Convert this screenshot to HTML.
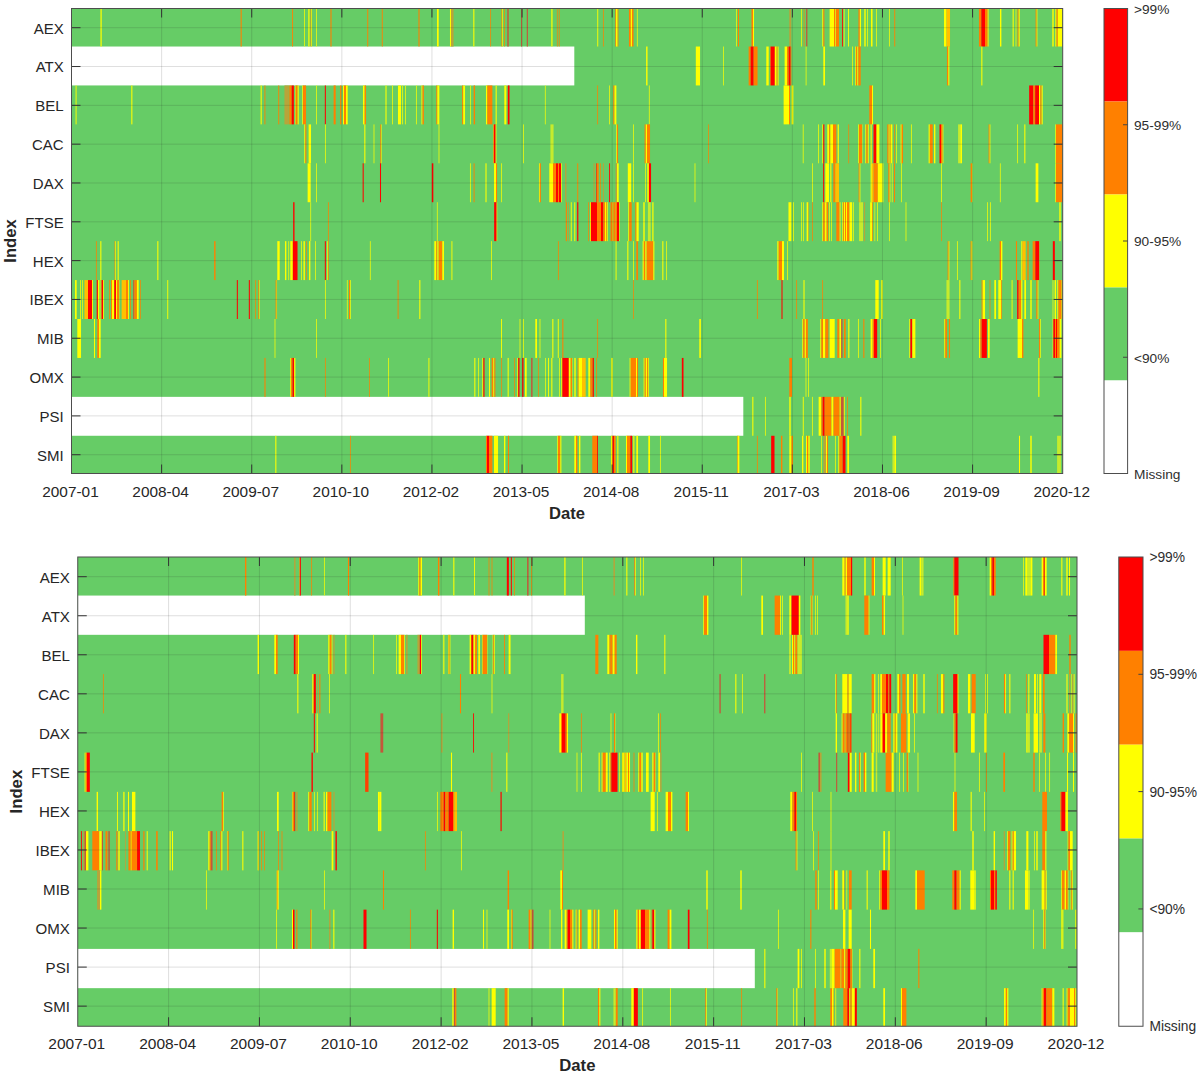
<!DOCTYPE html>
<html><head><meta charset="utf-8"><title>Heatmaps</title>
<style>
html,body{margin:0;padding:0;background:#fff;}
svg{display:block;font-family:"Liberation Sans",Arial,Helvetica,sans-serif;}
</style></head><body>
<svg width="1200" height="1076" viewBox="0 0 1200 1076">
<rect width="1200" height="1076" fill="#fff"/>
<rect x="71.5" y="8.5" width="991.2" height="465.0" fill="#66cc66"/>
<rect x="71.5" y="46.52" width="502.80" height="38.92" fill="#fff"/>
<rect x="71.5" y="396.85" width="671.80" height="38.92" fill="#fff"/>
<g>
<rect x="100.47" y="8.50" width="1.23" height="38.02" fill="#ffff00"/>
<rect x="240.63" y="8.50" width="1.07" height="38.02" fill="#ff8000"/>
<rect x="292.13" y="8.50" width="0.90" height="38.02" fill="#ff8000"/>
<rect x="304.13" y="8.50" width="0.73" height="38.02" fill="#ffff00"/>
<rect x="308.30" y="8.50" width="1.23" height="38.02" fill="#ffff00"/>
<rect x="310.63" y="8.50" width="0.70" height="38.02" fill="#ff8000"/>
<rect x="311.33" y="8.50" width="0.70" height="38.02" fill="#ffff00"/>
<rect x="316.07" y="8.50" width="0.70" height="38.02" fill="#ffff00"/>
<rect x="330.47" y="8.50" width="1.07" height="38.02" fill="#ff8000"/>
<rect x="367.30" y="8.50" width="0.90" height="38.02" fill="#ff8000"/>
<rect x="381.80" y="8.50" width="0.90" height="38.02" fill="#ff8000"/>
<rect x="418.47" y="8.50" width="1.07" height="38.02" fill="#ff8000"/>
<rect x="436.97" y="8.50" width="1.73" height="38.02" fill="#ffff00"/>
<rect x="449.97" y="8.50" width="1.03" height="38.02" fill="#ffff00"/>
<rect x="451.00" y="8.50" width="2.57" height="38.02" fill="#b9a43a"/>
<rect x="473.30" y="8.50" width="1.07" height="38.02" fill="#ffff00"/>
<rect x="490.30" y="8.50" width="0.73" height="38.02" fill="#ff8000"/>
<rect x="501.47" y="8.50" width="0.87" height="38.02" fill="#ff8000"/>
<rect x="502.33" y="8.50" width="0.70" height="38.02" fill="#ffff00"/>
<rect x="504.15" y="8.50" width="0.70" height="38.02" fill="#ff8000"/>
<rect x="507.27" y="8.50" width="1.47" height="38.02" fill="#c4573a"/>
<rect x="521.10" y="8.50" width="0.97" height="38.02" fill="#c4573a"/>
<rect x="526.77" y="8.50" width="1.13" height="38.02" fill="#c4573a"/>
<rect x="551.30" y="8.50" width="1.23" height="38.02" fill="#ffff00"/>
<rect x="556.90" y="8.50" width="0.70" height="38.02" fill="#ff8000"/>
<rect x="558.80" y="8.50" width="0.73" height="38.02" fill="#ff8000"/>
<rect x="597.30" y="8.50" width="0.90" height="38.02" fill="#ffff00"/>
<rect x="602.97" y="8.50" width="0.73" height="38.02" fill="#ff8000"/>
<rect x="615.30" y="8.50" width="0.70" height="38.02" fill="#ff8000"/>
<rect x="616.00" y="8.50" width="1.67" height="38.02" fill="#ffff00"/>
<rect x="617.67" y="8.50" width="0.70" height="38.02" fill="#ff8000"/>
<rect x="628.97" y="8.50" width="1.87" height="38.02" fill="#ff8000"/>
<rect x="630.83" y="8.50" width="1.17" height="38.02" fill="#ffff00"/>
<rect x="632.00" y="8.50" width="1.53" height="38.02" fill="#ff8000"/>
<rect x="636.90" y="8.50" width="0.70" height="38.02" fill="#ffff00"/>
<rect x="736.15" y="8.50" width="0.70" height="38.02" fill="#ffff00"/>
<rect x="737.97" y="8.50" width="1.07" height="38.02" fill="#ff8000"/>
<rect x="751.47" y="8.50" width="1.53" height="38.02" fill="#ff8000"/>
<rect x="753.00" y="8.50" width="1.03" height="38.02" fill="#ffff00"/>
<rect x="789.27" y="8.50" width="1.97" height="38.02" fill="#b9a43a"/>
<rect x="801.13" y="8.50" width="0.73" height="38.02" fill="#ffff00"/>
<rect x="803.73" y="8.50" width="0.70" height="38.02" fill="#ff8000"/>
<rect x="806.10" y="8.50" width="1.30" height="38.02" fill="#c4573a"/>
<rect x="822.30" y="8.50" width="1.03" height="38.02" fill="#ffff00"/>
<rect x="823.33" y="8.50" width="1.03" height="38.02" fill="#ff8000"/>
<rect x="829.63" y="8.50" width="4.37" height="38.02" fill="#ffff00"/>
<rect x="834.00" y="8.50" width="1.33" height="38.02" fill="#ff8000"/>
<rect x="835.33" y="8.50" width="0.67" height="38.02" fill="#ffff00"/>
<rect x="836.00" y="8.50" width="3.03" height="38.02" fill="#ff8000"/>
<rect x="841.98" y="8.50" width="0.87" height="38.02" fill="#ff0000"/>
<rect x="843.82" y="8.50" width="0.70" height="38.02" fill="#ffff00"/>
<rect x="848.13" y="8.50" width="0.90" height="38.02" fill="#ffff00"/>
<rect x="858.47" y="8.50" width="1.37" height="38.02" fill="#ff8000"/>
<rect x="859.83" y="8.50" width="1.20" height="38.02" fill="#ffff00"/>
<rect x="864.30" y="8.50" width="1.40" height="38.02" fill="#ffff00"/>
<rect x="867.30" y="8.50" width="0.73" height="38.02" fill="#ffff00"/>
<rect x="870.97" y="8.50" width="1.03" height="38.02" fill="#ffff00"/>
<rect x="872.00" y="8.50" width="0.53" height="38.02" fill="#ffff00"/>
<rect x="875.97" y="8.50" width="0.73" height="38.02" fill="#ffff00"/>
<rect x="888.97" y="8.50" width="0.73" height="38.02" fill="#ffff00"/>
<rect x="894.30" y="8.50" width="0.90" height="38.02" fill="#ff8000"/>
<rect x="943.97" y="8.50" width="2.53" height="38.02" fill="#ffff00"/>
<rect x="946.50" y="8.50" width="3.53" height="38.02" fill="#ffc000"/>
<rect x="978.97" y="8.50" width="2.37" height="38.02" fill="#ff8000"/>
<rect x="981.33" y="8.50" width="3.67" height="38.02" fill="#ff0000"/>
<rect x="985.00" y="8.50" width="2.67" height="38.02" fill="#ff8000"/>
<rect x="987.67" y="8.50" width="0.87" height="38.02" fill="#ffff00"/>
<rect x="999.97" y="8.50" width="1.40" height="38.02" fill="#ffff00"/>
<rect x="1012.63" y="8.50" width="1.07" height="38.02" fill="#ffff00"/>
<rect x="1015.63" y="8.50" width="0.73" height="38.02" fill="#ffff00"/>
<rect x="1017.63" y="8.50" width="1.03" height="38.02" fill="#ff8000"/>
<rect x="1018.67" y="8.50" width="1.03" height="38.02" fill="#ffff00"/>
<rect x="1035.63" y="8.50" width="1.03" height="38.02" fill="#ff8000"/>
<rect x="1036.67" y="8.50" width="0.70" height="38.02" fill="#ffff00"/>
<rect x="1052.30" y="8.50" width="1.40" height="38.02" fill="#ffff00"/>
<rect x="1055.30" y="8.50" width="1.20" height="38.02" fill="#ffff00"/>
<rect x="1056.50" y="8.50" width="1.33" height="38.02" fill="#ff8000"/>
<rect x="1057.83" y="8.50" width="4.53" height="38.02" fill="#ffff00"/>
<rect x="75.63" y="85.45" width="0.90" height="38.92" fill="#ffff00"/>
<rect x="131.30" y="85.45" width="1.07" height="38.92" fill="#ffff00"/>
<rect x="260.63" y="85.45" width="1.07" height="38.92" fill="#ffff00"/>
<rect x="264.47" y="85.45" width="0.90" height="38.92" fill="#ff8000"/>
<rect x="278.30" y="85.45" width="0.90" height="38.92" fill="#ff8000"/>
<rect x="284.43" y="85.45" width="3.73" height="38.92" fill="#b9a43a"/>
<rect x="288.17" y="85.45" width="1.17" height="38.92" fill="#b9a43a"/>
<rect x="289.33" y="85.45" width="2.33" height="38.92" fill="#ff8000"/>
<rect x="291.67" y="85.45" width="2.18" height="38.92" fill="#ff0000"/>
<rect x="294.97" y="85.45" width="0.70" height="38.92" fill="#ffff00"/>
<rect x="295.67" y="85.45" width="2.00" height="38.92" fill="#ff8000"/>
<rect x="297.67" y="85.45" width="1.03" height="38.92" fill="#ffff00"/>
<rect x="302.30" y="85.45" width="0.70" height="38.92" fill="#ffff00"/>
<rect x="303.00" y="85.45" width="3.03" height="38.92" fill="#ff8000"/>
<rect x="316.07" y="85.45" width="0.70" height="38.92" fill="#ffff00"/>
<rect x="324.82" y="85.45" width="1.03" height="38.92" fill="#ff0000"/>
<rect x="333.63" y="85.45" width="2.07" height="38.92" fill="#ff8000"/>
<rect x="340.13" y="85.45" width="1.23" height="38.92" fill="#ff8000"/>
<rect x="342.97" y="85.45" width="1.03" height="38.92" fill="#ffff00"/>
<rect x="344.00" y="85.45" width="2.00" height="38.92" fill="#ff8000"/>
<rect x="346.00" y="85.45" width="1.70" height="38.92" fill="#ffff00"/>
<rect x="362.97" y="85.45" width="1.70" height="38.92" fill="#ffff00"/>
<rect x="364.67" y="85.45" width="1.37" height="38.92" fill="#ff8000"/>
<rect x="385.47" y="85.45" width="1.07" height="38.92" fill="#ffff00"/>
<rect x="392.13" y="85.45" width="0.73" height="38.92" fill="#ffff00"/>
<rect x="397.97" y="85.45" width="3.07" height="38.92" fill="#ffff00"/>
<rect x="402.30" y="85.45" width="0.73" height="38.92" fill="#ffff00"/>
<rect x="405.07" y="85.45" width="0.70" height="38.92" fill="#ffff00"/>
<rect x="415.97" y="85.45" width="0.73" height="38.92" fill="#ffff00"/>
<rect x="421.47" y="85.45" width="1.03" height="38.92" fill="#ffff00"/>
<rect x="422.50" y="85.45" width="1.37" height="38.92" fill="#ff8000"/>
<rect x="436.30" y="85.45" width="1.03" height="38.92" fill="#ff8000"/>
<rect x="437.33" y="85.45" width="2.03" height="38.92" fill="#ffff00"/>
<rect x="462.13" y="85.45" width="1.03" height="38.92" fill="#ff8000"/>
<rect x="463.17" y="85.45" width="1.87" height="38.92" fill="#ffff00"/>
<rect x="470.30" y="85.45" width="0.73" height="38.92" fill="#ffff00"/>
<rect x="473.63" y="85.45" width="1.40" height="38.92" fill="#ff8000"/>
<rect x="485.97" y="85.45" width="1.37" height="38.92" fill="#ffff00"/>
<rect x="487.33" y="85.45" width="5.03" height="38.92" fill="#ff8000"/>
<rect x="495.63" y="85.45" width="1.07" height="38.92" fill="#ffff00"/>
<rect x="504.30" y="85.45" width="2.07" height="38.92" fill="#ffff00"/>
<rect x="507.82" y="85.45" width="1.70" height="38.92" fill="#ff0000"/>
<rect x="544.90" y="85.45" width="0.70" height="38.92" fill="#ffff00"/>
<rect x="597.30" y="85.45" width="0.73" height="38.92" fill="#ff8000"/>
<rect x="609.23" y="85.45" width="0.70" height="38.92" fill="#ffff00"/>
<rect x="613.30" y="85.45" width="1.20" height="38.92" fill="#ff8000"/>
<rect x="614.50" y="85.45" width="1.87" height="38.92" fill="#ffff00"/>
<rect x="648.90" y="85.45" width="0.70" height="38.92" fill="#ffff00"/>
<rect x="783.63" y="85.45" width="5.37" height="38.92" fill="#ffff00"/>
<rect x="789.00" y="85.45" width="1.03" height="38.92" fill="#ff8000"/>
<rect x="791.63" y="85.45" width="1.73" height="38.92" fill="#ffff00"/>
<rect x="869.30" y="85.45" width="2.70" height="38.92" fill="#ff8000"/>
<rect x="872.00" y="85.45" width="1.03" height="38.92" fill="#ffff00"/>
<rect x="1029.15" y="85.45" width="4.18" height="38.92" fill="#ff0000"/>
<rect x="1033.33" y="85.45" width="1.83" height="38.92" fill="#ff8000"/>
<rect x="1035.17" y="85.45" width="3.83" height="38.92" fill="#ff0000"/>
<rect x="1039.00" y="85.45" width="1.33" height="38.92" fill="#ffff00"/>
<rect x="1040.33" y="85.45" width="1.33" height="38.92" fill="#ff8000"/>
<rect x="1041.67" y="85.45" width="1.03" height="38.92" fill="#ffff00"/>
<rect x="304.30" y="124.37" width="1.03" height="38.92" fill="#ffff00"/>
<rect x="305.33" y="124.37" width="1.03" height="38.92" fill="#ff8000"/>
<rect x="308.63" y="124.37" width="2.40" height="38.92" fill="#ffff00"/>
<rect x="324.97" y="124.37" width="0.73" height="38.92" fill="#ffff00"/>
<rect x="364.30" y="124.37" width="1.07" height="38.92" fill="#ffff00"/>
<rect x="373.63" y="124.37" width="0.73" height="38.92" fill="#ffff00"/>
<rect x="380.30" y="124.37" width="0.87" height="38.92" fill="#ff8000"/>
<rect x="381.17" y="124.37" width="0.53" height="38.92" fill="#ffff00"/>
<rect x="438.63" y="124.37" width="0.73" height="38.92" fill="#ffff00"/>
<rect x="492.97" y="124.37" width="0.70" height="38.92" fill="#ffff00"/>
<rect x="493.67" y="124.37" width="2.00" height="38.92" fill="#ff0000"/>
<rect x="495.67" y="124.37" width="0.70" height="38.92" fill="#ffff00"/>
<rect x="523.07" y="124.37" width="0.70" height="38.92" fill="#ffff00"/>
<rect x="550.43" y="124.37" width="3.13" height="38.92" fill="#c6eb2c"/>
<rect x="616.30" y="124.37" width="0.70" height="38.92" fill="#ffff00"/>
<rect x="617.00" y="124.37" width="1.03" height="38.92" fill="#ff8000"/>
<rect x="633.07" y="124.37" width="0.70" height="38.92" fill="#ffff00"/>
<rect x="644.63" y="124.37" width="1.20" height="38.92" fill="#ff8000"/>
<rect x="645.83" y="124.37" width="1.17" height="38.92" fill="#ffff00"/>
<rect x="647.00" y="124.37" width="3.03" height="38.92" fill="#ff8000"/>
<rect x="708.23" y="124.37" width="0.70" height="38.92" fill="#ff8000"/>
<rect x="802.80" y="124.37" width="0.73" height="38.92" fill="#ffff00"/>
<rect x="818.30" y="124.37" width="0.73" height="38.92" fill="#ffff00"/>
<rect x="822.30" y="124.37" width="0.95" height="38.92" fill="#ffff00"/>
<rect x="823.25" y="124.37" width="1.10" height="38.92" fill="#ff0000"/>
<rect x="827.30" y="124.37" width="1.87" height="38.92" fill="#ffff00"/>
<rect x="829.17" y="124.37" width="1.17" height="38.92" fill="#ff8000"/>
<rect x="830.33" y="124.37" width="2.67" height="38.92" fill="#ffff00"/>
<rect x="833.00" y="124.37" width="3.37" height="38.92" fill="#ff8000"/>
<rect x="837.63" y="124.37" width="1.23" height="38.92" fill="#ffff00"/>
<rect x="848.40" y="124.37" width="0.70" height="38.92" fill="#ff8000"/>
<rect x="858.30" y="124.37" width="0.70" height="38.92" fill="#ffff00"/>
<rect x="859.00" y="124.37" width="3.00" height="38.92" fill="#ff8000"/>
<rect x="862.00" y="124.37" width="0.37" height="38.92" fill="#ffff00"/>
<rect x="865.30" y="124.37" width="1.03" height="38.92" fill="#ffff00"/>
<rect x="866.33" y="124.37" width="1.50" height="38.92" fill="#ff8000"/>
<rect x="867.83" y="124.37" width="0.87" height="38.92" fill="#ffff00"/>
<rect x="870.63" y="124.37" width="1.07" height="38.92" fill="#ffff00"/>
<rect x="873.48" y="124.37" width="3.02" height="38.92" fill="#ff0000"/>
<rect x="876.50" y="124.37" width="2.87" height="38.92" fill="#ffff00"/>
<rect x="887.30" y="124.37" width="1.37" height="38.92" fill="#ff8000"/>
<rect x="888.67" y="124.37" width="1.00" height="38.92" fill="#ffff00"/>
<rect x="889.67" y="124.37" width="1.00" height="38.92" fill="#ff8000"/>
<rect x="890.67" y="124.37" width="1.70" height="38.92" fill="#ffff00"/>
<rect x="894.30" y="124.37" width="0.73" height="38.92" fill="#ff8000"/>
<rect x="896.30" y="124.37" width="0.73" height="38.92" fill="#ffff00"/>
<rect x="900.63" y="124.37" width="1.03" height="38.92" fill="#ffff00"/>
<rect x="901.67" y="124.37" width="1.37" height="38.92" fill="#ff8000"/>
<rect x="910.97" y="124.37" width="0.73" height="38.92" fill="#ffff00"/>
<rect x="928.63" y="124.37" width="1.20" height="38.92" fill="#ffff00"/>
<rect x="929.83" y="124.37" width="2.87" height="38.92" fill="#ff8000"/>
<rect x="933.97" y="124.37" width="1.40" height="38.92" fill="#ffff00"/>
<rect x="939.48" y="124.37" width="1.52" height="38.92" fill="#ff0000"/>
<rect x="941.00" y="124.37" width="1.67" height="38.92" fill="#ff8000"/>
<rect x="942.67" y="124.37" width="0.70" height="38.92" fill="#ffff00"/>
<rect x="958.10" y="124.37" width="2.23" height="38.92" fill="#c6eb2c"/>
<rect x="960.33" y="124.37" width="1.70" height="38.92" fill="#ffff00"/>
<rect x="988.63" y="124.37" width="1.03" height="38.92" fill="#ff8000"/>
<rect x="989.67" y="124.37" width="0.70" height="38.92" fill="#ffff00"/>
<rect x="1017.30" y="124.37" width="0.73" height="38.92" fill="#ffff00"/>
<rect x="1024.30" y="124.37" width="1.07" height="38.92" fill="#ffff00"/>
<rect x="1055.30" y="124.37" width="0.70" height="38.92" fill="#ffff00"/>
<rect x="1056.00" y="124.37" width="6.37" height="38.92" fill="#ff8000"/>
<rect x="646.13" y="46.52" width="1.40" height="38.92" fill="#ffff00"/>
<rect x="695.80" y="46.52" width="4.23" height="38.92" fill="#ffff00"/>
<rect x="723.23" y="46.52" width="0.70" height="38.92" fill="#ffff00"/>
<rect x="748.63" y="46.52" width="2.03" height="38.92" fill="#ff8000"/>
<rect x="750.67" y="46.52" width="3.00" height="38.92" fill="#ff0000"/>
<rect x="753.67" y="46.52" width="3.87" height="38.92" fill="#ff8000"/>
<rect x="766.30" y="46.52" width="2.40" height="38.92" fill="#ffff00"/>
<rect x="769.97" y="46.52" width="0.70" height="38.92" fill="#ff8000"/>
<rect x="770.67" y="46.52" width="4.17" height="38.92" fill="#ff0000"/>
<rect x="774.83" y="46.52" width="1.83" height="38.92" fill="#ffff00"/>
<rect x="776.67" y="46.52" width="1.00" height="38.92" fill="#ff8000"/>
<rect x="777.67" y="46.52" width="0.87" height="38.92" fill="#ffff00"/>
<rect x="784.63" y="46.52" width="2.37" height="38.92" fill="#ffff00"/>
<rect x="787.00" y="46.52" width="1.67" height="38.92" fill="#ff8000"/>
<rect x="788.67" y="46.52" width="2.00" height="38.92" fill="#ff0000"/>
<rect x="790.67" y="46.52" width="0.70" height="38.92" fill="#ff8000"/>
<rect x="805.73" y="46.52" width="0.70" height="38.92" fill="#ffff00"/>
<rect x="823.30" y="46.52" width="1.73" height="38.92" fill="#ffff00"/>
<rect x="852.15" y="46.52" width="0.70" height="38.92" fill="#ffff00"/>
<rect x="855.30" y="46.52" width="0.70" height="38.92" fill="#ffff00"/>
<rect x="856.00" y="46.52" width="1.33" height="38.92" fill="#ff8000"/>
<rect x="857.33" y="46.52" width="1.00" height="38.92" fill="#ffff00"/>
<rect x="858.33" y="46.52" width="2.37" height="38.92" fill="#ff8000"/>
<rect x="946.97" y="46.52" width="1.37" height="38.92" fill="#ff8000"/>
<rect x="948.33" y="46.52" width="1.03" height="38.92" fill="#ffff00"/>
<rect x="981.30" y="46.52" width="1.07" height="38.92" fill="#ffff00"/>
<rect x="95.97" y="241.15" width="0.73" height="38.93" fill="#ff8000"/>
<rect x="100.30" y="241.15" width="1.07" height="38.93" fill="#ffff00"/>
<rect x="114.63" y="241.15" width="0.70" height="38.93" fill="#ff8000"/>
<rect x="115.33" y="241.15" width="0.70" height="38.93" fill="#ffff00"/>
<rect x="117.63" y="241.15" width="1.07" height="38.93" fill="#ffff00"/>
<rect x="157.30" y="241.15" width="1.07" height="38.93" fill="#ffff00"/>
<rect x="214.13" y="241.15" width="1.40" height="38.93" fill="#ff8000"/>
<rect x="277.30" y="241.15" width="2.40" height="38.93" fill="#ffff00"/>
<rect x="284.97" y="241.15" width="1.40" height="38.93" fill="#ffff00"/>
<rect x="288.40" y="241.15" width="0.70" height="38.93" fill="#ffff00"/>
<rect x="290.30" y="241.15" width="2.53" height="38.93" fill="#ffff00"/>
<rect x="292.83" y="241.15" width="4.68" height="38.93" fill="#ff0000"/>
<rect x="301.23" y="241.15" width="0.70" height="38.93" fill="#ffff00"/>
<rect x="303.47" y="241.15" width="1.40" height="38.93" fill="#ffff00"/>
<rect x="306.07" y="241.15" width="0.70" height="38.93" fill="#ff8000"/>
<rect x="308.97" y="241.15" width="1.40" height="38.93" fill="#ffff00"/>
<rect x="315.23" y="241.15" width="0.70" height="38.93" fill="#ffff00"/>
<rect x="324.82" y="241.15" width="1.03" height="38.93" fill="#ff0000"/>
<rect x="327.30" y="241.15" width="0.70" height="38.93" fill="#ffff00"/>
<rect x="328.00" y="241.15" width="0.70" height="38.93" fill="#ff8000"/>
<rect x="369.90" y="241.15" width="0.70" height="38.93" fill="#ffff00"/>
<rect x="434.30" y="241.15" width="2.03" height="38.93" fill="#ffff00"/>
<rect x="436.33" y="241.15" width="1.00" height="38.93" fill="#ff8000"/>
<rect x="437.33" y="241.15" width="1.33" height="38.93" fill="#ffff00"/>
<rect x="438.67" y="241.15" width="3.67" height="38.93" fill="#ff8000"/>
<rect x="442.33" y="241.15" width="1.70" height="38.93" fill="#ffff00"/>
<rect x="451.47" y="241.15" width="0.90" height="38.93" fill="#ffff00"/>
<rect x="491.13" y="241.15" width="0.73" height="38.93" fill="#ffff00"/>
<rect x="557.97" y="241.15" width="0.73" height="38.93" fill="#ff8000"/>
<rect x="615.63" y="241.15" width="0.90" height="38.93" fill="#ffff00"/>
<rect x="627.30" y="241.15" width="1.07" height="38.93" fill="#ffff00"/>
<rect x="633.13" y="241.15" width="0.73" height="38.93" fill="#ffff00"/>
<rect x="636.30" y="241.15" width="1.73" height="38.93" fill="#ff8000"/>
<rect x="642.63" y="241.15" width="1.20" height="38.93" fill="#ffff00"/>
<rect x="643.83" y="241.15" width="1.50" height="38.93" fill="#ff8000"/>
<rect x="645.33" y="241.15" width="1.33" height="38.93" fill="#ffff00"/>
<rect x="646.67" y="241.15" width="6.67" height="38.93" fill="#ff8000"/>
<rect x="653.33" y="241.15" width="1.03" height="38.93" fill="#ffff00"/>
<rect x="662.30" y="241.15" width="1.07" height="38.93" fill="#ffff00"/>
<rect x="666.30" y="241.15" width="0.73" height="38.93" fill="#ffff00"/>
<rect x="777.30" y="241.15" width="1.37" height="38.93" fill="#ffff00"/>
<rect x="778.67" y="241.15" width="3.33" height="38.93" fill="#ff8000"/>
<rect x="782.00" y="241.15" width="2.03" height="38.93" fill="#ffff00"/>
<rect x="787.30" y="241.15" width="0.73" height="38.93" fill="#ffff00"/>
<rect x="947.63" y="241.15" width="1.03" height="38.93" fill="#ff8000"/>
<rect x="948.67" y="241.15" width="0.70" height="38.93" fill="#ffff00"/>
<rect x="956.97" y="241.15" width="0.73" height="38.93" fill="#ffff00"/>
<rect x="970.63" y="241.15" width="1.03" height="38.93" fill="#ff8000"/>
<rect x="971.67" y="241.15" width="0.70" height="38.93" fill="#ffff00"/>
<rect x="999.63" y="241.15" width="1.37" height="38.93" fill="#ff8000"/>
<rect x="1001.00" y="241.15" width="1.37" height="38.93" fill="#ffff00"/>
<rect x="1015.97" y="241.15" width="1.07" height="38.93" fill="#ff8000"/>
<rect x="1021.30" y="241.15" width="1.03" height="38.93" fill="#ffff00"/>
<rect x="1022.33" y="241.15" width="3.37" height="38.93" fill="#ffc000"/>
<rect x="1027.30" y="241.15" width="1.40" height="38.93" fill="#ff8000"/>
<rect x="1032.63" y="241.15" width="2.70" height="38.93" fill="#ff8000"/>
<rect x="1035.33" y="241.15" width="3.67" height="38.93" fill="#ff0000"/>
<rect x="1039.00" y="241.15" width="0.37" height="38.93" fill="#ff8000"/>
<rect x="1052.82" y="241.15" width="2.03" height="38.93" fill="#ff0000"/>
<rect x="74.97" y="280.07" width="1.73" height="38.93" fill="#ffff00"/>
<rect x="80.17" y="280.07" width="0.73" height="38.93" fill="#ffff00"/>
<rect x="82.30" y="280.07" width="0.73" height="38.93" fill="#ffff00"/>
<rect x="84.43" y="280.07" width="3.57" height="38.93" fill="#ffc000"/>
<rect x="88.00" y="280.07" width="4.00" height="38.93" fill="#ff0000"/>
<rect x="92.00" y="280.07" width="0.90" height="38.93" fill="#ffff00"/>
<rect x="96.68" y="280.07" width="1.25" height="38.93" fill="#ff0000"/>
<rect x="97.93" y="280.07" width="1.43" height="38.93" fill="#ffff00"/>
<rect x="100.63" y="280.07" width="0.87" height="38.93" fill="#ffff00"/>
<rect x="101.50" y="280.07" width="1.50" height="38.93" fill="#ff0000"/>
<rect x="103.00" y="280.07" width="0.83" height="38.93" fill="#ffff00"/>
<rect x="109.10" y="280.07" width="0.73" height="38.93" fill="#ff8000"/>
<rect x="110.97" y="280.07" width="1.03" height="38.93" fill="#ff8000"/>
<rect x="112.00" y="280.07" width="2.27" height="38.93" fill="#ffff00"/>
<rect x="114.27" y="280.07" width="1.73" height="38.93" fill="#ff0000"/>
<rect x="116.00" y="280.07" width="1.07" height="38.93" fill="#ffff00"/>
<rect x="117.07" y="280.07" width="2.00" height="38.93" fill="#ff8000"/>
<rect x="119.07" y="280.07" width="0.37" height="38.93" fill="#ffff00"/>
<rect x="121.63" y="280.07" width="4.37" height="38.93" fill="#ffc000"/>
<rect x="126.00" y="280.07" width="2.00" height="38.93" fill="#ff8000"/>
<rect x="128.00" y="280.07" width="0.90" height="38.93" fill="#ffff00"/>
<rect x="130.17" y="280.07" width="0.87" height="38.93" fill="#ff8000"/>
<rect x="133.17" y="280.07" width="1.10" height="38.93" fill="#c4573a"/>
<rect x="134.27" y="280.07" width="2.63" height="38.93" fill="#ff8000"/>
<rect x="136.90" y="280.07" width="1.80" height="38.93" fill="#ffff00"/>
<rect x="140.05" y="280.07" width="0.70" height="38.93" fill="#ff8000"/>
<rect x="167.30" y="280.07" width="0.90" height="38.93" fill="#ffff00"/>
<rect x="236.82" y="280.07" width="1.03" height="38.93" fill="#ff0000"/>
<rect x="248.82" y="280.07" width="1.03" height="38.93" fill="#ff0000"/>
<rect x="255.30" y="280.07" width="0.73" height="38.93" fill="#ff8000"/>
<rect x="258.30" y="280.07" width="0.70" height="38.93" fill="#ff8000"/>
<rect x="259.00" y="280.07" width="0.53" height="38.93" fill="#ffff00"/>
<rect x="275.63" y="280.07" width="1.03" height="38.93" fill="#ff8000"/>
<rect x="276.67" y="280.07" width="0.37" height="38.93" fill="#ffff00"/>
<rect x="324.97" y="280.07" width="0.73" height="38.93" fill="#ffff00"/>
<rect x="346.90" y="280.07" width="0.70" height="38.93" fill="#ffff00"/>
<rect x="348.97" y="280.07" width="1.03" height="38.93" fill="#ff8000"/>
<rect x="350.00" y="280.07" width="0.70" height="38.93" fill="#ffff00"/>
<rect x="397.63" y="280.07" width="0.90" height="38.93" fill="#ff8000"/>
<rect x="419.30" y="280.07" width="1.07" height="38.93" fill="#ffff00"/>
<rect x="633.07" y="280.07" width="0.70" height="38.93" fill="#ff8000"/>
<rect x="756.97" y="280.07" width="0.73" height="38.93" fill="#ff8000"/>
<rect x="781.48" y="280.07" width="1.03" height="38.93" fill="#ff0000"/>
<rect x="796.30" y="280.07" width="0.73" height="38.93" fill="#ff8000"/>
<rect x="803.47" y="280.07" width="1.07" height="38.93" fill="#ffff00"/>
<rect x="822.30" y="280.07" width="0.73" height="38.93" fill="#ff8000"/>
<rect x="875.30" y="280.07" width="3.40" height="38.93" fill="#ffff00"/>
<rect x="881.30" y="280.07" width="1.40" height="38.93" fill="#ffff00"/>
<rect x="946.43" y="280.07" width="3.13" height="38.93" fill="#c6eb2c"/>
<rect x="959.30" y="280.07" width="1.07" height="38.93" fill="#ffff00"/>
<rect x="981.63" y="280.07" width="1.03" height="38.93" fill="#ff8000"/>
<rect x="982.67" y="280.07" width="2.37" height="38.93" fill="#ffff00"/>
<rect x="989.63" y="280.07" width="0.73" height="38.93" fill="#ff8000"/>
<rect x="994.30" y="280.07" width="1.73" height="38.93" fill="#ffff00"/>
<rect x="998.30" y="280.07" width="3.03" height="38.93" fill="#ffff00"/>
<rect x="1001.33" y="280.07" width="0.70" height="38.93" fill="#ff8000"/>
<rect x="1011.63" y="280.07" width="0.90" height="38.93" fill="#ffff00"/>
<rect x="1017.15" y="280.07" width="1.52" height="38.93" fill="#ff0000"/>
<rect x="1018.67" y="280.07" width="2.50" height="38.93" fill="#ff8000"/>
<rect x="1021.17" y="280.07" width="1.20" height="38.93" fill="#ffff00"/>
<rect x="1024.30" y="280.07" width="1.73" height="38.93" fill="#ffff00"/>
<rect x="1030.30" y="280.07" width="1.40" height="38.93" fill="#ffff00"/>
<rect x="1036.30" y="280.07" width="1.37" height="38.93" fill="#ff8000"/>
<rect x="1037.67" y="280.07" width="0.70" height="38.93" fill="#ffff00"/>
<rect x="1052.63" y="280.07" width="0.73" height="38.93" fill="#ffff00"/>
<rect x="1054.63" y="280.07" width="1.40" height="38.93" fill="#ffff00"/>
<rect x="1057.30" y="280.07" width="1.03" height="38.93" fill="#ffff00"/>
<rect x="1058.33" y="280.07" width="3.33" height="38.93" fill="#ff8000"/>
<rect x="1061.67" y="280.07" width="0.70" height="38.93" fill="#ffff00"/>
<rect x="307.63" y="163.30" width="3.07" height="38.93" fill="#ffff00"/>
<rect x="316.07" y="163.30" width="0.70" height="38.93" fill="#ffff00"/>
<rect x="362.65" y="163.30" width="1.03" height="38.93" fill="#ff0000"/>
<rect x="379.98" y="163.30" width="1.03" height="38.93" fill="#ff0000"/>
<rect x="431.82" y="163.30" width="1.53" height="38.93" fill="#ff0000"/>
<rect x="469.97" y="163.30" width="0.73" height="38.93" fill="#ffff00"/>
<rect x="473.63" y="163.30" width="0.90" height="38.93" fill="#ff8000"/>
<rect x="485.47" y="163.30" width="1.07" height="38.93" fill="#ffff00"/>
<rect x="493.97" y="163.30" width="2.03" height="38.93" fill="#ffff00"/>
<rect x="496.00" y="163.30" width="1.03" height="38.93" fill="#ff8000"/>
<rect x="501.30" y="163.30" width="0.73" height="38.93" fill="#ffff00"/>
<rect x="538.97" y="163.30" width="0.87" height="38.93" fill="#ffff00"/>
<rect x="539.83" y="163.30" width="1.07" height="38.93" fill="#ff8000"/>
<rect x="549.30" y="163.30" width="3.70" height="38.93" fill="#ffff00"/>
<rect x="553.00" y="163.30" width="3.00" height="38.93" fill="#ff8000"/>
<rect x="556.00" y="163.30" width="2.00" height="38.93" fill="#ff0000"/>
<rect x="558.00" y="163.30" width="1.00" height="38.93" fill="#ff8000"/>
<rect x="559.00" y="163.30" width="2.00" height="38.93" fill="#ff0000"/>
<rect x="561.00" y="163.30" width="0.70" height="38.93" fill="#ffff00"/>
<rect x="565.10" y="163.30" width="1.30" height="38.93" fill="#b9a43a"/>
<rect x="577.30" y="163.30" width="0.90" height="38.93" fill="#ff8000"/>
<rect x="593.60" y="163.30" width="1.10" height="38.93" fill="#b9a43a"/>
<rect x="596.15" y="163.30" width="0.65" height="38.93" fill="#ff0000"/>
<rect x="596.80" y="163.30" width="1.90" height="38.93" fill="#ff8000"/>
<rect x="600.25" y="163.30" width="0.70" height="38.93" fill="#ff8000"/>
<rect x="602.90" y="163.30" width="1.00" height="38.93" fill="#b9a43a"/>
<rect x="609.15" y="163.30" width="0.90" height="38.93" fill="#ff0000"/>
<rect x="615.60" y="163.30" width="1.40" height="38.93" fill="#b9a43a"/>
<rect x="617.00" y="163.30" width="1.70" height="38.93" fill="#ffff00"/>
<rect x="627.80" y="163.30" width="3.40" height="38.93" fill="#ffff00"/>
<rect x="633.05" y="163.30" width="0.70" height="38.93" fill="#ffff00"/>
<rect x="645.05" y="163.30" width="0.70" height="38.93" fill="#ffff00"/>
<rect x="647.30" y="163.30" width="1.60" height="38.93" fill="#ffff00"/>
<rect x="648.90" y="163.30" width="2.15" height="38.93" fill="#ff0000"/>
<rect x="694.63" y="163.30" width="0.73" height="38.93" fill="#ffff00"/>
<rect x="812.23" y="163.30" width="0.70" height="38.93" fill="#ffff00"/>
<rect x="823.15" y="163.30" width="1.03" height="38.93" fill="#ff0000"/>
<rect x="825.30" y="163.30" width="3.73" height="38.93" fill="#ffff00"/>
<rect x="830.30" y="163.30" width="1.07" height="38.93" fill="#ffff00"/>
<rect x="833.30" y="163.30" width="2.03" height="38.93" fill="#ff8000"/>
<rect x="835.33" y="163.30" width="3.70" height="38.93" fill="#ffc000"/>
<rect x="858.63" y="163.30" width="1.03" height="38.93" fill="#ff8000"/>
<rect x="859.67" y="163.30" width="0.70" height="38.93" fill="#ffff00"/>
<rect x="870.63" y="163.30" width="1.20" height="38.93" fill="#ffff00"/>
<rect x="871.83" y="163.30" width="1.83" height="38.93" fill="#ffc000"/>
<rect x="873.67" y="163.30" width="4.17" height="38.93" fill="#ff8000"/>
<rect x="877.83" y="163.30" width="4.17" height="38.93" fill="#ffff00"/>
<rect x="882.00" y="163.30" width="1.57" height="38.93" fill="#c6eb2c"/>
<rect x="888.30" y="163.30" width="1.37" height="38.93" fill="#ff8000"/>
<rect x="889.67" y="163.30" width="0.70" height="38.93" fill="#ffff00"/>
<rect x="891.82" y="163.30" width="0.70" height="38.93" fill="#ffff00"/>
<rect x="893.97" y="163.30" width="1.07" height="38.93" fill="#ff8000"/>
<rect x="900.97" y="163.30" width="0.73" height="38.93" fill="#ffff00"/>
<rect x="941.13" y="163.30" width="0.73" height="38.93" fill="#ffff00"/>
<rect x="970.63" y="163.30" width="1.37" height="38.93" fill="#ff8000"/>
<rect x="972.00" y="163.30" width="0.37" height="38.93" fill="#ffff00"/>
<rect x="999.90" y="163.30" width="0.70" height="38.93" fill="#ffff00"/>
<rect x="1035.63" y="163.30" width="2.73" height="38.93" fill="#ffff00"/>
<rect x="1055.30" y="163.30" width="0.70" height="38.93" fill="#ffff00"/>
<rect x="1056.00" y="163.30" width="6.37" height="38.93" fill="#ff8000"/>
<rect x="293.15" y="202.22" width="1.37" height="38.92" fill="#ff0000"/>
<rect x="310.40" y="202.22" width="0.70" height="38.92" fill="#ffff00"/>
<rect x="327.97" y="202.22" width="0.73" height="38.92" fill="#ff8000"/>
<rect x="436.90" y="202.22" width="0.70" height="38.92" fill="#ffff00"/>
<rect x="494.15" y="202.22" width="2.52" height="38.92" fill="#ff0000"/>
<rect x="496.67" y="202.22" width="0.53" height="38.92" fill="#ffff00"/>
<rect x="565.80" y="202.22" width="1.10" height="38.92" fill="#ff8000"/>
<rect x="567.90" y="202.22" width="1.00" height="38.92" fill="#b9a43a"/>
<rect x="570.80" y="202.22" width="0.90" height="38.92" fill="#ffff00"/>
<rect x="574.30" y="202.22" width="1.00" height="38.92" fill="#ffff00"/>
<rect x="577.15" y="202.22" width="1.20" height="38.92" fill="#ff0000"/>
<rect x="588.25" y="202.22" width="0.70" height="38.92" fill="#ff8000"/>
<rect x="590.00" y="202.22" width="0.90" height="38.92" fill="#ffff00"/>
<rect x="590.90" y="202.22" width="6.10" height="38.92" fill="#ff0000"/>
<rect x="597.00" y="202.22" width="4.00" height="38.92" fill="#ff8000"/>
<rect x="601.00" y="202.22" width="2.40" height="38.92" fill="#ff0000"/>
<rect x="603.40" y="202.22" width="1.60" height="38.92" fill="#ff8000"/>
<rect x="605.00" y="202.22" width="1.00" height="38.92" fill="#ffff00"/>
<rect x="606.00" y="202.22" width="0.80" height="38.92" fill="#ff8000"/>
<rect x="606.80" y="202.22" width="0.90" height="38.92" fill="#ffff00"/>
<rect x="610.50" y="202.22" width="1.70" height="38.92" fill="#ff8000"/>
<rect x="612.20" y="202.22" width="1.20" height="38.92" fill="#ffc000"/>
<rect x="613.40" y="202.22" width="1.60" height="38.92" fill="#ff8000"/>
<rect x="615.00" y="202.22" width="0.40" height="38.92" fill="#ffff00"/>
<rect x="615.40" y="202.22" width="1.60" height="38.92" fill="#ff8000"/>
<rect x="617.00" y="202.22" width="2.00" height="38.92" fill="#ff0000"/>
<rect x="619.00" y="202.22" width="0.50" height="38.92" fill="#ffff00"/>
<rect x="628.30" y="202.22" width="0.90" height="38.92" fill="#ffff00"/>
<rect x="629.20" y="202.22" width="2.50" height="38.92" fill="#ff8000"/>
<rect x="635.30" y="202.22" width="1.20" height="38.92" fill="#ff8000"/>
<rect x="636.50" y="202.22" width="2.20" height="38.92" fill="#ffff00"/>
<rect x="643.30" y="202.22" width="1.40" height="38.92" fill="#ffff00"/>
<rect x="647.90" y="202.22" width="2.80" height="38.92" fill="#c6eb2c"/>
<rect x="652.30" y="202.22" width="1.20" height="38.92" fill="#ffff00"/>
<rect x="788.47" y="202.22" width="2.90" height="38.92" fill="#ffff00"/>
<rect x="792.97" y="202.22" width="0.73" height="38.92" fill="#ffff00"/>
<rect x="801.30" y="202.22" width="0.73" height="38.92" fill="#ffff00"/>
<rect x="803.23" y="202.22" width="0.70" height="38.92" fill="#ffff00"/>
<rect x="806.63" y="202.22" width="1.70" height="38.92" fill="#ffff00"/>
<rect x="808.33" y="202.22" width="0.37" height="38.92" fill="#ff8000"/>
<rect x="812.15" y="202.22" width="0.70" height="38.92" fill="#ff8000"/>
<rect x="822.30" y="202.22" width="0.87" height="38.92" fill="#ffff00"/>
<rect x="823.17" y="202.22" width="1.67" height="38.92" fill="#ff8000"/>
<rect x="824.83" y="202.22" width="1.83" height="38.92" fill="#ffff00"/>
<rect x="826.67" y="202.22" width="1.53" height="38.92" fill="#ff8000"/>
<rect x="829.30" y="202.22" width="0.73" height="38.92" fill="#ffff00"/>
<rect x="831.07" y="202.22" width="0.70" height="38.92" fill="#ffff00"/>
<rect x="836.30" y="202.22" width="3.35" height="38.92" fill="#ff8000"/>
<rect x="839.65" y="202.22" width="0.85" height="38.92" fill="#ffff00"/>
<rect x="842.30" y="202.22" width="0.90" height="38.92" fill="#ffff00"/>
<rect x="843.20" y="202.22" width="0.80" height="38.92" fill="#ff8000"/>
<rect x="844.00" y="202.22" width="1.00" height="38.92" fill="#ffff00"/>
<rect x="845.00" y="202.22" width="1.00" height="38.92" fill="#ff8000"/>
<rect x="846.00" y="202.22" width="1.00" height="38.92" fill="#ffff00"/>
<rect x="847.00" y="202.22" width="2.50" height="38.92" fill="#ff8000"/>
<rect x="849.50" y="202.22" width="2.70" height="38.92" fill="#ffff00"/>
<rect x="853.25" y="202.22" width="0.70" height="38.92" fill="#ffff00"/>
<rect x="859.10" y="202.22" width="4.00" height="38.92" fill="#c6eb2c"/>
<rect x="863.90" y="202.22" width="1.20" height="38.92" fill="#b9a43a"/>
<rect x="870.10" y="202.22" width="2.10" height="38.92" fill="#ffff00"/>
<rect x="872.20" y="202.22" width="0.70" height="38.92" fill="#ff8000"/>
<rect x="874.30" y="202.22" width="1.00" height="38.92" fill="#c6eb2c"/>
<rect x="877.05" y="202.22" width="0.70" height="38.92" fill="#ffff00"/>
<rect x="888.97" y="202.22" width="0.73" height="38.92" fill="#ffff00"/>
<rect x="905.63" y="202.22" width="0.73" height="38.92" fill="#ffff00"/>
<rect x="941.23" y="202.22" width="0.70" height="38.92" fill="#ff8000"/>
<rect x="987.07" y="202.22" width="0.70" height="38.92" fill="#ffff00"/>
<rect x="989.97" y="202.22" width="0.73" height="38.92" fill="#ffff00"/>
<rect x="1059.30" y="202.22" width="1.40" height="38.92" fill="#ffff00"/>
<rect x="77.30" y="319.00" width="3.73" height="38.93" fill="#ffff00"/>
<rect x="93.97" y="319.00" width="1.07" height="38.93" fill="#ffff00"/>
<rect x="97.30" y="319.00" width="1.70" height="38.93" fill="#ff8000"/>
<rect x="99.00" y="319.00" width="1.70" height="38.93" fill="#ffff00"/>
<rect x="274.63" y="319.00" width="0.73" height="38.93" fill="#ffff00"/>
<rect x="316.07" y="319.00" width="0.70" height="38.93" fill="#ffff00"/>
<rect x="501.13" y="319.00" width="0.90" height="38.93" fill="#ffff00"/>
<rect x="519.63" y="319.00" width="0.73" height="38.93" fill="#ffff00"/>
<rect x="522.97" y="319.00" width="0.73" height="38.93" fill="#ffff00"/>
<rect x="535.30" y="319.00" width="1.73" height="38.93" fill="#ffff00"/>
<rect x="539.63" y="319.00" width="0.73" height="38.93" fill="#ffff00"/>
<rect x="552.30" y="319.00" width="1.07" height="38.93" fill="#ffff00"/>
<rect x="557.80" y="319.00" width="0.90" height="38.93" fill="#ffff00"/>
<rect x="562.30" y="319.00" width="1.07" height="38.93" fill="#ff8000"/>
<rect x="597.30" y="319.00" width="0.73" height="38.93" fill="#ff8000"/>
<rect x="665.30" y="319.00" width="1.07" height="38.93" fill="#ffff00"/>
<rect x="699.30" y="319.00" width="1.57" height="38.93" fill="#ffff00"/>
<rect x="802.30" y="319.00" width="0.87" height="38.93" fill="#ffff00"/>
<rect x="803.17" y="319.00" width="1.58" height="38.93" fill="#ff8000"/>
<rect x="804.75" y="319.00" width="1.17" height="38.93" fill="#ffff00"/>
<rect x="805.92" y="319.00" width="1.95" height="38.93" fill="#ff8000"/>
<rect x="820.30" y="319.00" width="1.03" height="38.93" fill="#ffff00"/>
<rect x="821.33" y="319.00" width="1.67" height="38.93" fill="#ff8000"/>
<rect x="823.00" y="319.00" width="2.33" height="38.93" fill="#ffff00"/>
<rect x="825.33" y="319.00" width="3.03" height="38.93" fill="#ff8000"/>
<rect x="829.63" y="319.00" width="5.07" height="38.93" fill="#ffff00"/>
<rect x="837.30" y="319.00" width="2.20" height="38.93" fill="#ff8000"/>
<rect x="839.50" y="319.00" width="1.67" height="38.93" fill="#ffff00"/>
<rect x="841.17" y="319.00" width="1.40" height="38.93" fill="#c4573a"/>
<rect x="843.97" y="319.00" width="1.73" height="38.93" fill="#ff8000"/>
<rect x="848.30" y="319.00" width="1.07" height="38.93" fill="#ffff00"/>
<rect x="857.97" y="319.00" width="0.73" height="38.93" fill="#ffff00"/>
<rect x="863.30" y="319.00" width="1.07" height="38.93" fill="#ff8000"/>
<rect x="870.63" y="319.00" width="1.37" height="38.93" fill="#ffff00"/>
<rect x="872.00" y="319.00" width="0.67" height="38.93" fill="#ffff00"/>
<rect x="872.67" y="319.00" width="1.33" height="38.93" fill="#ff8000"/>
<rect x="874.00" y="319.00" width="3.18" height="38.93" fill="#ff0000"/>
<rect x="879.97" y="319.00" width="0.73" height="38.93" fill="#ffff00"/>
<rect x="909.30" y="319.00" width="1.03" height="38.93" fill="#ffff00"/>
<rect x="910.33" y="319.00" width="2.00" height="38.93" fill="#ff0000"/>
<rect x="912.33" y="319.00" width="3.03" height="38.93" fill="#ffff00"/>
<rect x="944.30" y="319.00" width="1.03" height="38.93" fill="#ffff00"/>
<rect x="945.33" y="319.00" width="1.70" height="38.93" fill="#ff8000"/>
<rect x="948.97" y="319.00" width="1.07" height="38.93" fill="#ff8000"/>
<rect x="978.97" y="319.00" width="1.37" height="38.93" fill="#ffff00"/>
<rect x="980.33" y="319.00" width="1.33" height="38.93" fill="#ff8000"/>
<rect x="981.67" y="319.00" width="5.18" height="38.93" fill="#ff0000"/>
<rect x="987.97" y="319.00" width="1.73" height="38.93" fill="#ffff00"/>
<rect x="1017.63" y="319.00" width="4.37" height="38.93" fill="#ffff00"/>
<rect x="1022.00" y="319.00" width="1.37" height="38.93" fill="#ff8000"/>
<rect x="1038.97" y="319.00" width="1.03" height="38.93" fill="#ff8000"/>
<rect x="1040.00" y="319.00" width="0.70" height="38.93" fill="#ffff00"/>
<rect x="1052.63" y="319.00" width="0.70" height="38.93" fill="#ffff00"/>
<rect x="1053.33" y="319.00" width="1.67" height="38.93" fill="#ff0000"/>
<rect x="1055.00" y="319.00" width="1.00" height="38.93" fill="#ff8000"/>
<rect x="1056.00" y="319.00" width="1.00" height="38.93" fill="#ff0000"/>
<rect x="1057.00" y="319.00" width="2.67" height="38.93" fill="#ff8000"/>
<rect x="1059.67" y="319.00" width="1.70" height="38.93" fill="#ffff00"/>
<rect x="264.47" y="357.93" width="1.07" height="38.93" fill="#ff8000"/>
<rect x="290.30" y="357.93" width="0.70" height="38.93" fill="#ffff00"/>
<rect x="291.00" y="357.93" width="1.50" height="38.93" fill="#ff8000"/>
<rect x="292.50" y="357.93" width="1.67" height="38.93" fill="#ff0000"/>
<rect x="294.17" y="357.93" width="1.20" height="38.93" fill="#ffff00"/>
<rect x="324.97" y="357.93" width="0.73" height="38.93" fill="#ff8000"/>
<rect x="369.23" y="357.93" width="0.70" height="38.93" fill="#ff8000"/>
<rect x="388.30" y="357.93" width="0.73" height="38.93" fill="#ffff00"/>
<rect x="428.47" y="357.93" width="0.90" height="38.93" fill="#ffff00"/>
<rect x="474.30" y="357.93" width="1.07" height="38.93" fill="#ffff00"/>
<rect x="478.30" y="357.93" width="0.73" height="38.93" fill="#ffff00"/>
<rect x="482.30" y="357.93" width="1.03" height="38.93" fill="#ffff00"/>
<rect x="483.33" y="357.93" width="1.18" height="38.93" fill="#ff0000"/>
<rect x="488.97" y="357.93" width="1.07" height="38.93" fill="#ffff00"/>
<rect x="491.63" y="357.93" width="1.70" height="38.93" fill="#ff8000"/>
<rect x="493.33" y="357.93" width="1.00" height="38.93" fill="#ffff00"/>
<rect x="494.33" y="357.93" width="1.03" height="38.93" fill="#ff8000"/>
<rect x="501.30" y="357.93" width="0.73" height="38.93" fill="#ff8000"/>
<rect x="507.63" y="357.93" width="1.07" height="38.93" fill="#ffff00"/>
<rect x="514.30" y="357.93" width="0.73" height="38.93" fill="#ff8000"/>
<rect x="517.30" y="357.93" width="0.87" height="38.93" fill="#ffff00"/>
<rect x="518.17" y="357.93" width="1.35" height="38.93" fill="#ff0000"/>
<rect x="522.15" y="357.93" width="1.37" height="38.93" fill="#ff0000"/>
<rect x="524.97" y="357.93" width="1.73" height="38.93" fill="#ffff00"/>
<rect x="531.10" y="357.93" width="1.47" height="38.93" fill="#c4573a"/>
<rect x="537.97" y="357.93" width="0.73" height="38.93" fill="#ff8000"/>
<rect x="545.30" y="357.93" width="0.73" height="38.93" fill="#ffff00"/>
<rect x="548.13" y="357.93" width="0.90" height="38.93" fill="#ffff00"/>
<rect x="551.30" y="357.93" width="1.07" height="38.93" fill="#ffff00"/>
<rect x="558.97" y="357.93" width="0.73" height="38.93" fill="#ffff00"/>
<rect x="561.30" y="357.93" width="1.03" height="38.93" fill="#ffff00"/>
<rect x="562.33" y="357.93" width="6.50" height="38.93" fill="#ff0000"/>
<rect x="568.83" y="357.93" width="1.83" height="38.93" fill="#ffff00"/>
<rect x="570.67" y="357.93" width="1.33" height="38.93" fill="#ff8000"/>
<rect x="572.00" y="357.93" width="0.37" height="38.93" fill="#ffff00"/>
<rect x="574.30" y="357.93" width="1.40" height="38.93" fill="#ffff00"/>
<rect x="577.63" y="357.93" width="1.03" height="38.93" fill="#ff8000"/>
<rect x="578.67" y="357.93" width="3.33" height="38.93" fill="#ffff00"/>
<rect x="582.00" y="357.93" width="3.70" height="38.93" fill="#ffc000"/>
<rect x="588.30" y="357.93" width="2.03" height="38.93" fill="#ffff00"/>
<rect x="590.33" y="357.93" width="2.33" height="38.93" fill="#ff8000"/>
<rect x="592.67" y="357.93" width="1.18" height="38.93" fill="#ff0000"/>
<rect x="596.30" y="357.93" width="0.73" height="38.93" fill="#ff8000"/>
<rect x="611.30" y="357.93" width="1.40" height="38.93" fill="#ffff00"/>
<rect x="629.63" y="357.93" width="1.03" height="38.93" fill="#ffff00"/>
<rect x="630.67" y="357.93" width="5.33" height="38.93" fill="#ff8000"/>
<rect x="636.00" y="357.93" width="1.00" height="38.93" fill="#ffff00"/>
<rect x="637.00" y="357.93" width="1.03" height="38.93" fill="#ff8000"/>
<rect x="643.63" y="357.93" width="1.03" height="38.93" fill="#ffff00"/>
<rect x="644.67" y="357.93" width="1.17" height="38.93" fill="#ff8000"/>
<rect x="645.83" y="357.93" width="1.33" height="38.93" fill="#ffff00"/>
<rect x="647.17" y="357.93" width="1.17" height="38.93" fill="#ff8000"/>
<rect x="648.33" y="357.93" width="0.70" height="38.93" fill="#ffff00"/>
<rect x="662.97" y="357.93" width="1.03" height="38.93" fill="#ff8000"/>
<rect x="664.00" y="357.93" width="3.03" height="38.93" fill="#ffff00"/>
<rect x="681.82" y="357.93" width="1.70" height="38.93" fill="#ff0000"/>
<rect x="789.30" y="357.93" width="2.73" height="38.93" fill="#ff8000"/>
<rect x="805.63" y="357.93" width="0.73" height="38.93" fill="#ffff00"/>
<rect x="808.30" y="357.93" width="0.73" height="38.93" fill="#ffff00"/>
<rect x="1038.30" y="357.93" width="1.07" height="38.93" fill="#ffff00"/>
<rect x="275.30" y="435.77" width="1.07" height="37.73" fill="#ffff00"/>
<rect x="349.97" y="435.77" width="0.73" height="37.73" fill="#ff8000"/>
<rect x="485.97" y="435.77" width="1.03" height="37.73" fill="#ff8000"/>
<rect x="487.00" y="435.77" width="2.00" height="37.73" fill="#ff0000"/>
<rect x="489.00" y="435.77" width="3.37" height="37.73" fill="#ff8000"/>
<rect x="493.97" y="435.77" width="4.07" height="37.73" fill="#ffff00"/>
<rect x="503.97" y="435.77" width="1.40" height="37.73" fill="#ffff00"/>
<rect x="507.97" y="435.77" width="1.07" height="37.73" fill="#ff8000"/>
<rect x="557.30" y="435.77" width="0.70" height="37.73" fill="#ffff00"/>
<rect x="558.00" y="435.77" width="2.33" height="37.73" fill="#ff8000"/>
<rect x="560.33" y="435.77" width="1.03" height="37.73" fill="#ffff00"/>
<rect x="574.30" y="435.77" width="1.70" height="37.73" fill="#ffff00"/>
<rect x="576.00" y="435.77" width="1.37" height="37.73" fill="#ff8000"/>
<rect x="578.97" y="435.77" width="1.40" height="37.73" fill="#ffff00"/>
<rect x="592.30" y="435.77" width="4.70" height="37.73" fill="#ff8000"/>
<rect x="597.00" y="435.77" width="0.85" height="37.73" fill="#ff0000"/>
<rect x="610.97" y="435.77" width="1.53" height="37.73" fill="#ffff00"/>
<rect x="612.50" y="435.77" width="1.50" height="37.73" fill="#ff0000"/>
<rect x="614.00" y="435.77" width="1.70" height="37.73" fill="#ff8000"/>
<rect x="617.30" y="435.77" width="1.07" height="37.73" fill="#ffff00"/>
<rect x="625.97" y="435.77" width="1.03" height="37.73" fill="#ffff00"/>
<rect x="627.00" y="435.77" width="3.33" height="37.73" fill="#ff8000"/>
<rect x="630.33" y="435.77" width="1.85" height="37.73" fill="#ff0000"/>
<rect x="633.30" y="435.77" width="1.07" height="37.73" fill="#ffff00"/>
<rect x="636.30" y="435.77" width="1.73" height="37.73" fill="#ffff00"/>
<rect x="648.30" y="435.77" width="1.73" height="37.73" fill="#ffff00"/>
<rect x="659.97" y="435.77" width="0.73" height="37.73" fill="#ffff00"/>
<rect x="736.97" y="435.77" width="0.70" height="37.73" fill="#ff8000"/>
<rect x="737.67" y="435.77" width="1.70" height="37.73" fill="#ffff00"/>
<rect x="756.97" y="435.77" width="0.73" height="37.73" fill="#ff8000"/>
<rect x="771.15" y="435.77" width="3.37" height="37.73" fill="#ff0000"/>
<rect x="780.97" y="435.77" width="1.40" height="37.73" fill="#ff8000"/>
<rect x="789.30" y="435.77" width="2.20" height="37.73" fill="#ffff00"/>
<rect x="791.50" y="435.77" width="1.53" height="37.73" fill="#ff8000"/>
<rect x="801.97" y="435.77" width="1.40" height="37.73" fill="#ffff00"/>
<rect x="805.97" y="435.77" width="1.03" height="37.73" fill="#ffff00"/>
<rect x="807.00" y="435.77" width="1.33" height="37.73" fill="#ff8000"/>
<rect x="808.33" y="435.77" width="1.37" height="37.73" fill="#ffff00"/>
<rect x="821.30" y="435.77" width="0.73" height="37.73" fill="#ffff00"/>
<rect x="823.43" y="435.77" width="2.57" height="37.73" fill="#b9a43a"/>
<rect x="826.00" y="435.77" width="1.00" height="37.73" fill="#ffff00"/>
<rect x="827.00" y="435.77" width="1.03" height="37.73" fill="#ff8000"/>
<rect x="834.97" y="435.77" width="0.73" height="37.73" fill="#ffff00"/>
<rect x="838.30" y="435.77" width="1.03" height="37.73" fill="#ffff00"/>
<rect x="839.33" y="435.77" width="3.33" height="37.73" fill="#ff8000"/>
<rect x="842.67" y="435.77" width="2.85" height="37.73" fill="#ff0000"/>
<rect x="847.30" y="435.77" width="1.73" height="37.73" fill="#ffff00"/>
<rect x="892.43" y="435.77" width="1.90" height="37.73" fill="#c6eb2c"/>
<rect x="894.33" y="435.77" width="1.70" height="37.73" fill="#ffff00"/>
<rect x="1018.97" y="435.77" width="1.07" height="37.73" fill="#ffff00"/>
<rect x="1030.30" y="435.77" width="1.40" height="37.73" fill="#ffff00"/>
<rect x="1057.10" y="435.77" width="3.80" height="37.73" fill="#c6eb2c"/>
<rect x="752.30" y="396.85" width="1.07" height="38.92" fill="#ffff00"/>
<rect x="764.97" y="396.85" width="0.73" height="38.92" fill="#ffff00"/>
<rect x="789.30" y="396.85" width="1.40" height="38.92" fill="#ffff00"/>
<rect x="802.80" y="396.85" width="0.90" height="38.92" fill="#ffff00"/>
<rect x="811.97" y="396.85" width="0.73" height="38.92" fill="#ffff00"/>
<rect x="818.63" y="396.85" width="2.70" height="38.92" fill="#ffff00"/>
<rect x="821.33" y="396.85" width="1.33" height="38.92" fill="#ff8000"/>
<rect x="822.67" y="396.85" width="2.00" height="38.92" fill="#ff0000"/>
<rect x="824.67" y="396.85" width="6.83" height="38.92" fill="#ff8000"/>
<rect x="831.50" y="396.85" width="2.00" height="38.92" fill="#ffff00"/>
<rect x="833.50" y="396.85" width="6.17" height="38.92" fill="#ff8000"/>
<rect x="839.67" y="396.85" width="1.17" height="38.92" fill="#ffff00"/>
<rect x="840.83" y="396.85" width="3.00" height="38.92" fill="#c4573a"/>
<rect x="843.83" y="396.85" width="0.87" height="38.92" fill="#ffff00"/>
<rect x="846.97" y="396.85" width="0.73" height="38.92" fill="#ff8000"/>
<rect x="860.30" y="396.85" width="1.07" height="38.92" fill="#ffff00"/>
</g>
<path d="M161.61 8.5V473.5M251.72 8.5V473.5M341.83 8.5V473.5M431.94 8.5V473.5M522.05 8.5V473.5M612.15 8.5V473.5M702.26 8.5V473.5M792.37 8.5V473.5M882.48 8.5V473.5M972.59 8.5V473.5M71.5 27.70H1062.7M71.5 66.52H1062.7M71.5 105.34H1062.7M71.5 144.16H1062.7M71.5 182.98H1062.7M71.5 221.80H1062.7M71.5 260.62H1062.7M71.5 299.44H1062.7M71.5 338.26H1062.7M71.5 377.08H1062.7M71.5 415.90H1062.7M71.5 454.72H1062.7" stroke="#262626" stroke-opacity="0.15" stroke-width="1" fill="none"/>
<path d="M161.61 473.5v-9M161.61 8.5v9M251.72 473.5v-9M251.72 8.5v9M341.83 473.5v-9M341.83 8.5v9M431.94 473.5v-9M431.94 8.5v9M522.05 473.5v-9M522.05 8.5v9M612.15 473.5v-9M612.15 8.5v9M702.26 473.5v-9M702.26 8.5v9M792.37 473.5v-9M792.37 8.5v9M882.48 473.5v-9M882.48 8.5v9M972.59 473.5v-9M972.59 8.5v9M71.5 27.70h9M1062.7 27.70h-9M71.5 66.52h9M1062.7 66.52h-9M71.5 105.34h9M1062.7 105.34h-9M71.5 144.16h9M1062.7 144.16h-9M71.5 182.98h9M1062.7 182.98h-9M71.5 221.80h9M1062.7 221.80h-9M71.5 260.62h9M1062.7 260.62h-9M71.5 299.44h9M1062.7 299.44h-9M71.5 338.26h9M1062.7 338.26h-9M71.5 377.08h9M1062.7 377.08h-9M71.5 415.90h9M1062.7 415.90h-9M71.5 454.72h9M1062.7 454.72h-9" stroke="#333" stroke-width="1" fill="none"/>
<rect x="71.5" y="8.5" width="991.2" height="465.0" fill="none" stroke="#4d4d4d" stroke-width="1"/>
<g font-size="15.0" fill="#262626" text-anchor="end">
<text x="63.7" y="33.60">AEX</text>
<text x="63.7" y="72.42">ATX</text>
<text x="63.7" y="111.24">BEL</text>
<text x="63.7" y="150.06">CAC</text>
<text x="63.7" y="188.88">DAX</text>
<text x="63.7" y="227.70">FTSE</text>
<text x="63.7" y="266.52">HEX</text>
<text x="63.7" y="305.34">IBEX</text>
<text x="63.7" y="344.16">MIB</text>
<text x="63.7" y="382.98">OMX</text>
<text x="63.7" y="421.80">PSI</text>
<text x="63.7" y="460.62">SMI</text>
</g>
<g font-size="15.4" fill="#262626" text-anchor="middle">
<text x="70.50" y="496.7">2007-01</text>
<text x="160.61" y="496.7">2008-04</text>
<text x="250.72" y="496.7">2009-07</text>
<text x="340.83" y="496.7">2010-10</text>
<text x="430.94" y="496.7">2012-02</text>
<text x="521.05" y="496.7">2013-05</text>
<text x="611.15" y="496.7">2014-08</text>
<text x="701.26" y="496.7">2015-11</text>
<text x="791.37" y="496.7">2017-03</text>
<text x="881.48" y="496.7">2018-06</text>
<text x="971.59" y="496.7">2019-09</text>
<text x="1061.70" y="496.7">2020-12</text>
</g>
<text x="567.10" y="518.6" font-size="16.6" font-weight="bold" fill="#262626" text-anchor="middle">Date</text>
<text transform="translate(16 241.00) rotate(-90)" font-size="16.6" font-weight="bold" fill="#262626" text-anchor="middle">Index</text>
<rect x="1104" y="8.50" width="23.59999999999991" height="93.00" fill="#ff0000"/>
<rect x="1104" y="101.50" width="23.59999999999991" height="93.00" fill="#ff8000"/>
<rect x="1104" y="194.50" width="23.59999999999991" height="93.00" fill="#ffff00"/>
<rect x="1104" y="287.50" width="23.59999999999991" height="93.00" fill="#66cc66"/>
<rect x="1104" y="380.50" width="23.59999999999991" height="93.00" fill="#ffffff"/>
<rect x="1104" y="8.5" width="23.59999999999991" height="465.0" fill="none" stroke="#4d4d4d" stroke-width="1"/>
<path d="M1127.6 124.75h-4.6M1127.6 241.00h-4.6M1127.6 357.25h-4.6" stroke="#444" stroke-width="1" fill="none"/>
<g font-size="13.7" fill="#2e2e2e">
<text x="1134.0" y="13.80">&gt;99%</text>
<text x="1134.0" y="130.05">95-99%</text>
<text x="1134.0" y="246.30">90-95%</text>
<text x="1134.0" y="362.55">&lt;90%</text>
<text x="1134.0" y="478.80">Missing</text>
</g>
<rect x="77.75" y="557" width="999.25" height="469.25" fill="#66cc66"/>
<rect x="77.75" y="595.56" width="507.05" height="39.26" fill="#fff"/>
<rect x="77.75" y="948.90" width="677.05" height="39.26" fill="#fff"/>
<g>
<rect x="244.97" y="557.00" width="1.40" height="38.56" fill="#ff8000"/>
<rect x="294.10" y="557.00" width="1.47" height="38.56" fill="#b9a43a"/>
<rect x="299.13" y="557.00" width="0.53" height="38.56" fill="#ffff00"/>
<rect x="299.67" y="557.00" width="1.18" height="38.56" fill="#ff0000"/>
<rect x="311.30" y="557.00" width="0.73" height="38.56" fill="#ff8000"/>
<rect x="323.97" y="557.00" width="0.73" height="38.56" fill="#ffff00"/>
<rect x="347.97" y="557.00" width="1.07" height="38.56" fill="#ff8000"/>
<rect x="418.30" y="557.00" width="1.03" height="38.56" fill="#ffff00"/>
<rect x="419.33" y="557.00" width="1.33" height="38.56" fill="#ff8000"/>
<rect x="420.67" y="557.00" width="1.37" height="38.56" fill="#ffff00"/>
<rect x="437.97" y="557.00" width="1.40" height="38.56" fill="#ff8000"/>
<rect x="453.30" y="557.00" width="1.07" height="38.56" fill="#ffff00"/>
<rect x="474.13" y="557.00" width="0.90" height="38.56" fill="#ffff00"/>
<rect x="488.63" y="557.00" width="0.73" height="38.56" fill="#ff8000"/>
<rect x="491.63" y="557.00" width="0.73" height="38.56" fill="#ff8000"/>
<rect x="506.82" y="557.00" width="2.03" height="38.56" fill="#ff0000"/>
<rect x="510.82" y="557.00" width="1.03" height="38.56" fill="#ff0000"/>
<rect x="513.97" y="557.00" width="0.73" height="38.56" fill="#ff8000"/>
<rect x="527.10" y="557.00" width="1.47" height="38.56" fill="#c4573a"/>
<rect x="531.30" y="557.00" width="0.73" height="38.56" fill="#ff8000"/>
<rect x="564.30" y="557.00" width="1.23" height="38.56" fill="#ffff00"/>
<rect x="581.97" y="557.00" width="0.73" height="38.56" fill="#ffff00"/>
<rect x="613.43" y="557.00" width="1.47" height="38.56" fill="#b9a43a"/>
<rect x="626.30" y="557.00" width="1.07" height="38.56" fill="#ffff00"/>
<rect x="634.30" y="557.00" width="0.70" height="38.56" fill="#ff8000"/>
<rect x="635.00" y="557.00" width="0.70" height="38.56" fill="#ffff00"/>
<rect x="640.30" y="557.00" width="0.73" height="38.56" fill="#ffff00"/>
<rect x="643.23" y="557.00" width="0.70" height="38.56" fill="#ffff00"/>
<rect x="741.30" y="557.00" width="0.73" height="38.56" fill="#ffff00"/>
<rect x="812.30" y="557.00" width="1.40" height="38.56" fill="#ff8000"/>
<rect x="842.30" y="557.00" width="2.37" height="38.56" fill="#ffff00"/>
<rect x="844.67" y="557.00" width="1.00" height="38.56" fill="#ff8000"/>
<rect x="845.67" y="557.00" width="1.33" height="38.56" fill="#ffff00"/>
<rect x="847.00" y="557.00" width="4.00" height="38.56" fill="#ff8000"/>
<rect x="851.00" y="557.00" width="1.18" height="38.56" fill="#ff0000"/>
<rect x="864.30" y="557.00" width="1.40" height="38.56" fill="#ffff00"/>
<rect x="871.63" y="557.00" width="2.37" height="38.56" fill="#ff8000"/>
<rect x="874.00" y="557.00" width="1.03" height="38.56" fill="#ffff00"/>
<rect x="882.63" y="557.00" width="3.07" height="38.56" fill="#ffff00"/>
<rect x="887.63" y="557.00" width="3.07" height="38.56" fill="#ffff00"/>
<rect x="901.97" y="557.00" width="0.73" height="38.56" fill="#ffff00"/>
<rect x="919.63" y="557.00" width="1.87" height="38.56" fill="#ffff00"/>
<rect x="921.50" y="557.00" width="2.07" height="38.56" fill="#c6eb2c"/>
<rect x="953.30" y="557.00" width="1.03" height="38.56" fill="#ff8000"/>
<rect x="954.33" y="557.00" width="4.18" height="38.56" fill="#ff0000"/>
<rect x="989.63" y="557.00" width="1.37" height="38.56" fill="#ffff00"/>
<rect x="991.00" y="557.00" width="1.33" height="38.56" fill="#ff8000"/>
<rect x="992.33" y="557.00" width="1.67" height="38.56" fill="#ff0000"/>
<rect x="994.00" y="557.00" width="1.70" height="38.56" fill="#ff8000"/>
<rect x="1023.30" y="557.00" width="0.73" height="38.56" fill="#ffff00"/>
<rect x="1025.30" y="557.00" width="2.37" height="38.56" fill="#ffff00"/>
<rect x="1027.67" y="557.00" width="2.83" height="38.56" fill="#c6eb2c"/>
<rect x="1030.50" y="557.00" width="1.87" height="38.56" fill="#ffff00"/>
<rect x="1041.63" y="557.00" width="1.37" height="38.56" fill="#ffff00"/>
<rect x="1043.00" y="557.00" width="1.00" height="38.56" fill="#ff8000"/>
<rect x="1044.00" y="557.00" width="0.83" height="38.56" fill="#ff0000"/>
<rect x="1044.83" y="557.00" width="1.87" height="38.56" fill="#ffff00"/>
<rect x="1061.30" y="557.00" width="1.07" height="38.56" fill="#ffff00"/>
<rect x="1066.30" y="557.00" width="1.40" height="38.56" fill="#ffff00"/>
<rect x="1068.97" y="557.00" width="1.07" height="38.56" fill="#ffff00"/>
<rect x="257.63" y="634.82" width="1.40" height="39.26" fill="#ffff00"/>
<rect x="274.30" y="634.82" width="1.70" height="39.26" fill="#ffff00"/>
<rect x="276.00" y="634.82" width="1.70" height="39.26" fill="#ff8000"/>
<rect x="293.82" y="634.82" width="1.85" height="39.26" fill="#ff0000"/>
<rect x="295.67" y="634.82" width="2.33" height="39.26" fill="#ff8000"/>
<rect x="298.00" y="634.82" width="1.03" height="39.26" fill="#ffff00"/>
<rect x="328.30" y="634.82" width="1.37" height="39.26" fill="#ffff00"/>
<rect x="329.67" y="634.82" width="2.00" height="39.26" fill="#ff8000"/>
<rect x="331.67" y="634.82" width="0.70" height="39.26" fill="#ffff00"/>
<rect x="333.43" y="634.82" width="1.13" height="39.26" fill="#b9a43a"/>
<rect x="345.30" y="634.82" width="1.07" height="39.26" fill="#ffff00"/>
<rect x="373.30" y="634.82" width="0.73" height="39.26" fill="#ffff00"/>
<rect x="396.30" y="634.82" width="0.73" height="39.26" fill="#ffff00"/>
<rect x="398.63" y="634.82" width="2.37" height="39.26" fill="#ffff00"/>
<rect x="401.00" y="634.82" width="3.00" height="39.26" fill="#ff8000"/>
<rect x="404.00" y="634.82" width="0.70" height="39.26" fill="#ffff00"/>
<rect x="406.10" y="634.82" width="1.47" height="39.26" fill="#b9a43a"/>
<rect x="417.43" y="634.82" width="2.40" height="39.26" fill="#b9a43a"/>
<rect x="419.83" y="634.82" width="1.17" height="39.26" fill="#ff0000"/>
<rect x="421.00" y="634.82" width="0.70" height="39.26" fill="#ffff00"/>
<rect x="443.30" y="634.82" width="1.07" height="39.26" fill="#ffff00"/>
<rect x="447.97" y="634.82" width="0.70" height="39.26" fill="#ffff00"/>
<rect x="448.67" y="634.82" width="1.00" height="39.26" fill="#ff8000"/>
<rect x="449.67" y="634.82" width="0.70" height="39.26" fill="#ffff00"/>
<rect x="469.63" y="634.82" width="1.70" height="39.26" fill="#ffff00"/>
<rect x="471.33" y="634.82" width="2.17" height="39.26" fill="#ff0000"/>
<rect x="473.50" y="634.82" width="1.67" height="39.26" fill="#ffff00"/>
<rect x="475.17" y="634.82" width="1.87" height="39.26" fill="#ff8000"/>
<rect x="478.30" y="634.82" width="1.73" height="39.26" fill="#ffff00"/>
<rect x="481.97" y="634.82" width="0.70" height="39.26" fill="#ffff00"/>
<rect x="482.67" y="634.82" width="4.33" height="39.26" fill="#ff8000"/>
<rect x="487.00" y="634.82" width="0.37" height="39.26" fill="#ffff00"/>
<rect x="492.63" y="634.82" width="0.70" height="39.26" fill="#ffff00"/>
<rect x="493.33" y="634.82" width="0.83" height="39.26" fill="#ff8000"/>
<rect x="494.17" y="634.82" width="0.70" height="39.26" fill="#ffff00"/>
<rect x="504.13" y="634.82" width="0.90" height="39.26" fill="#ff8000"/>
<rect x="508.63" y="634.82" width="1.90" height="39.26" fill="#ffff00"/>
<rect x="595.30" y="634.82" width="3.07" height="39.26" fill="#ff8000"/>
<rect x="607.30" y="634.82" width="2.20" height="39.26" fill="#ffff00"/>
<rect x="609.50" y="634.82" width="1.33" height="39.26" fill="#ff8000"/>
<rect x="610.83" y="634.82" width="1.83" height="39.26" fill="#ff8000"/>
<rect x="612.67" y="634.82" width="2.00" height="39.26" fill="#ffff00"/>
<rect x="614.67" y="634.82" width="2.03" height="39.26" fill="#ff8000"/>
<rect x="635.97" y="634.82" width="1.40" height="39.26" fill="#ffff00"/>
<rect x="664.30" y="634.82" width="1.07" height="39.26" fill="#ffff00"/>
<rect x="789.10" y="634.82" width="1.80" height="39.26" fill="#c6eb2c"/>
<rect x="791.97" y="634.82" width="1.03" height="39.26" fill="#ffff00"/>
<rect x="793.00" y="634.82" width="1.33" height="39.26" fill="#ff8000"/>
<rect x="794.33" y="634.82" width="1.00" height="39.26" fill="#ffff00"/>
<rect x="795.33" y="634.82" width="2.17" height="39.26" fill="#ff8000"/>
<rect x="797.50" y="634.82" width="4.40" height="39.26" fill="#c6eb2c"/>
<rect x="1043.48" y="634.82" width="5.52" height="39.26" fill="#ff0000"/>
<rect x="1049.00" y="634.82" width="6.33" height="39.26" fill="#ff8000"/>
<rect x="1055.33" y="634.82" width="1.70" height="39.26" fill="#ffff00"/>
<rect x="1069.30" y="634.82" width="1.40" height="39.26" fill="#ff8000"/>
<rect x="102.97" y="674.08" width="0.73" height="39.26" fill="#ff8000"/>
<rect x="297.30" y="674.08" width="1.07" height="39.26" fill="#ffff00"/>
<rect x="312.30" y="674.08" width="1.37" height="39.26" fill="#ffff00"/>
<rect x="313.67" y="674.08" width="2.18" height="39.26" fill="#ff0000"/>
<rect x="317.10" y="674.08" width="0.80" height="39.26" fill="#b9a43a"/>
<rect x="319.30" y="674.08" width="1.07" height="39.26" fill="#ff8000"/>
<rect x="328.97" y="674.08" width="0.73" height="39.26" fill="#ffff00"/>
<rect x="459.97" y="674.08" width="1.07" height="39.26" fill="#ff8000"/>
<rect x="491.63" y="674.08" width="0.73" height="39.26" fill="#ffff00"/>
<rect x="561.10" y="674.08" width="2.47" height="39.26" fill="#c6eb2c"/>
<rect x="719.43" y="674.08" width="1.30" height="39.26" fill="#c4573a"/>
<rect x="735.30" y="674.08" width="1.07" height="39.26" fill="#ffff00"/>
<rect x="741.97" y="674.08" width="0.73" height="39.26" fill="#ffff00"/>
<rect x="764.10" y="674.08" width="1.30" height="39.26" fill="#c4573a"/>
<rect x="835.30" y="674.08" width="0.70" height="39.26" fill="#ffff00"/>
<rect x="836.00" y="674.08" width="0.70" height="39.26" fill="#ff8000"/>
<rect x="842.30" y="674.08" width="5.20" height="39.26" fill="#ffff00"/>
<rect x="847.50" y="674.08" width="1.17" height="39.26" fill="#ff8000"/>
<rect x="848.67" y="674.08" width="3.03" height="39.26" fill="#ffff00"/>
<rect x="871.63" y="674.08" width="2.53" height="39.26" fill="#ff8000"/>
<rect x="874.17" y="674.08" width="1.20" height="39.26" fill="#ffff00"/>
<rect x="878.30" y="674.08" width="0.73" height="39.26" fill="#ffff00"/>
<rect x="880.30" y="674.08" width="1.70" height="39.26" fill="#ffff00"/>
<rect x="882.00" y="674.08" width="4.00" height="39.26" fill="#ff8000"/>
<rect x="886.00" y="674.08" width="2.33" height="39.26" fill="#ff0000"/>
<rect x="888.33" y="674.08" width="1.00" height="39.26" fill="#ff8000"/>
<rect x="889.33" y="674.08" width="1.85" height="39.26" fill="#ff0000"/>
<rect x="897.30" y="674.08" width="1.87" height="39.26" fill="#ffff00"/>
<rect x="899.17" y="674.08" width="1.20" height="39.26" fill="#ff8000"/>
<rect x="902.30" y="674.08" width="3.40" height="39.26" fill="#ff8000"/>
<rect x="906.97" y="674.08" width="2.07" height="39.26" fill="#ffff00"/>
<rect x="912.97" y="674.08" width="1.37" height="39.26" fill="#ffff00"/>
<rect x="914.33" y="674.08" width="2.00" height="39.26" fill="#ff8000"/>
<rect x="916.33" y="674.08" width="1.03" height="39.26" fill="#ffff00"/>
<rect x="923.30" y="674.08" width="1.40" height="39.26" fill="#ffff00"/>
<rect x="936.97" y="674.08" width="0.73" height="39.26" fill="#ff8000"/>
<rect x="940.97" y="674.08" width="2.37" height="39.26" fill="#ffff00"/>
<rect x="943.33" y="674.08" width="1.03" height="39.26" fill="#ff8000"/>
<rect x="953.15" y="674.08" width="3.85" height="39.26" fill="#ff0000"/>
<rect x="957.00" y="674.08" width="1.00" height="39.26" fill="#ff8000"/>
<rect x="958.00" y="674.08" width="0.37" height="39.26" fill="#ffff00"/>
<rect x="967.97" y="674.08" width="2.40" height="39.26" fill="#ffff00"/>
<rect x="971.63" y="674.08" width="4.07" height="39.26" fill="#ff8000"/>
<rect x="985.30" y="674.08" width="0.73" height="39.26" fill="#ffff00"/>
<rect x="987.15" y="674.08" width="0.70" height="39.26" fill="#ffff00"/>
<rect x="1003.97" y="674.08" width="1.20" height="39.26" fill="#ff8000"/>
<rect x="1005.17" y="674.08" width="0.87" height="39.26" fill="#ffff00"/>
<rect x="1009.30" y="674.08" width="1.07" height="39.26" fill="#ffff00"/>
<rect x="1025.97" y="674.08" width="0.73" height="39.26" fill="#ff8000"/>
<rect x="1028.30" y="674.08" width="1.07" height="39.26" fill="#ffff00"/>
<rect x="1033.97" y="674.08" width="2.07" height="39.26" fill="#ffff00"/>
<rect x="1037.30" y="674.08" width="0.73" height="39.26" fill="#ffff00"/>
<rect x="1039.30" y="674.08" width="2.07" height="39.26" fill="#ffff00"/>
<rect x="1042.97" y="674.08" width="1.73" height="39.26" fill="#ff8000"/>
<rect x="1066.10" y="674.08" width="1.80" height="39.26" fill="#c6eb2c"/>
<rect x="1069.10" y="674.08" width="1.13" height="39.26" fill="#b9a43a"/>
<rect x="1071.10" y="674.08" width="1.07" height="39.26" fill="#c6eb2c"/>
<rect x="1072.17" y="674.08" width="1.33" height="39.26" fill="#b9a43a"/>
<rect x="1073.50" y="674.08" width="1.40" height="39.26" fill="#c6eb2c"/>
<rect x="703.30" y="595.56" width="0.70" height="39.26" fill="#ffff00"/>
<rect x="704.00" y="595.56" width="3.00" height="39.26" fill="#ff8000"/>
<rect x="707.00" y="595.56" width="1.37" height="39.26" fill="#ffff00"/>
<rect x="761.30" y="595.56" width="1.73" height="39.26" fill="#ffff00"/>
<rect x="774.63" y="595.56" width="5.53" height="39.26" fill="#ff8000"/>
<rect x="780.17" y="595.56" width="0.87" height="39.26" fill="#ffff00"/>
<rect x="782.15" y="595.56" width="0.70" height="39.26" fill="#ffff00"/>
<rect x="789.30" y="595.56" width="2.20" height="39.26" fill="#ffff00"/>
<rect x="791.50" y="595.56" width="7.33" height="39.26" fill="#ff0000"/>
<rect x="798.83" y="595.56" width="1.53" height="39.26" fill="#ffff00"/>
<rect x="810.63" y="595.56" width="0.70" height="39.26" fill="#ffff00"/>
<rect x="811.33" y="595.56" width="1.00" height="39.26" fill="#ff8000"/>
<rect x="812.33" y="595.56" width="0.37" height="39.26" fill="#ffff00"/>
<rect x="814.97" y="595.56" width="0.73" height="39.26" fill="#ffff00"/>
<rect x="817.07" y="595.56" width="0.70" height="39.26" fill="#ffff00"/>
<rect x="845.43" y="595.56" width="1.90" height="39.26" fill="#c6eb2c"/>
<rect x="847.33" y="595.56" width="1.37" height="39.26" fill="#ffff00"/>
<rect x="864.30" y="595.56" width="4.37" height="39.26" fill="#ff8000"/>
<rect x="868.67" y="595.56" width="0.70" height="39.26" fill="#ffff00"/>
<rect x="881.97" y="595.56" width="1.70" height="39.26" fill="#ff8000"/>
<rect x="883.67" y="595.56" width="1.37" height="39.26" fill="#ffff00"/>
<rect x="902.63" y="595.56" width="0.73" height="39.26" fill="#ffff00"/>
<rect x="954.30" y="595.56" width="1.03" height="39.26" fill="#ffff00"/>
<rect x="955.33" y="595.56" width="2.00" height="39.26" fill="#ff8000"/>
<rect x="957.33" y="595.56" width="1.03" height="39.26" fill="#ffff00"/>
<rect x="84.63" y="752.60" width="1.03" height="39.26" fill="#ffff00"/>
<rect x="85.67" y="752.60" width="1.33" height="39.26" fill="#ff8000"/>
<rect x="87.00" y="752.60" width="2.85" height="39.26" fill="#ff0000"/>
<rect x="311.48" y="752.60" width="1.37" height="39.26" fill="#ff0000"/>
<rect x="365.15" y="752.60" width="3.37" height="39.26" fill="#ff4000"/>
<rect x="450.97" y="752.60" width="1.07" height="39.26" fill="#ffff00"/>
<rect x="491.10" y="752.60" width="1.47" height="39.26" fill="#b9a43a"/>
<rect x="506.30" y="752.60" width="1.07" height="39.26" fill="#ffff00"/>
<rect x="576.63" y="752.60" width="0.73" height="39.26" fill="#ffff00"/>
<rect x="580.97" y="752.60" width="0.73" height="39.26" fill="#ffff00"/>
<rect x="598.63" y="752.60" width="1.07" height="39.26" fill="#ffff00"/>
<rect x="601.63" y="752.60" width="1.03" height="39.26" fill="#ffff00"/>
<rect x="602.67" y="752.60" width="3.17" height="39.26" fill="#ff8000"/>
<rect x="605.83" y="752.60" width="1.87" height="39.26" fill="#ffff00"/>
<rect x="609.30" y="752.60" width="1.03" height="39.26" fill="#ffff00"/>
<rect x="610.33" y="752.60" width="1.00" height="39.26" fill="#ff8000"/>
<rect x="611.33" y="752.60" width="6.18" height="39.26" fill="#ff0000"/>
<rect x="619.15" y="752.60" width="0.70" height="39.26" fill="#ffff00"/>
<rect x="621.97" y="752.60" width="2.53" height="39.26" fill="#ffff00"/>
<rect x="624.50" y="752.60" width="2.00" height="39.26" fill="#ffc000"/>
<rect x="626.50" y="752.60" width="1.50" height="39.26" fill="#ffff00"/>
<rect x="628.00" y="752.60" width="1.00" height="39.26" fill="#ff8000"/>
<rect x="629.00" y="752.60" width="1.03" height="39.26" fill="#ffff00"/>
<rect x="633.63" y="752.60" width="0.73" height="39.26" fill="#ff8000"/>
<rect x="638.30" y="752.60" width="1.03" height="39.26" fill="#ffff00"/>
<rect x="639.33" y="752.60" width="2.00" height="39.26" fill="#ff8000"/>
<rect x="641.33" y="752.60" width="1.37" height="39.26" fill="#ffff00"/>
<rect x="645.97" y="752.60" width="2.73" height="39.26" fill="#ffff00"/>
<rect x="652.30" y="752.60" width="1.37" height="39.26" fill="#ffff00"/>
<rect x="653.67" y="752.60" width="1.67" height="39.26" fill="#ff8000"/>
<rect x="655.33" y="752.60" width="0.37" height="39.26" fill="#ffff00"/>
<rect x="658.30" y="752.60" width="1.87" height="39.26" fill="#ffff00"/>
<rect x="660.17" y="752.60" width="1.40" height="39.26" fill="#b9a43a"/>
<rect x="801.07" y="752.60" width="0.70" height="39.26" fill="#ffff00"/>
<rect x="818.43" y="752.60" width="1.57" height="39.26" fill="#c4573a"/>
<rect x="820.00" y="752.60" width="1.57" height="39.26" fill="#b9a43a"/>
<rect x="836.10" y="752.60" width="1.13" height="39.26" fill="#c4573a"/>
<rect x="847.82" y="752.60" width="1.85" height="39.26" fill="#ff0000"/>
<rect x="849.67" y="752.60" width="2.03" height="39.26" fill="#ffff00"/>
<rect x="854.97" y="752.60" width="1.40" height="39.26" fill="#ffff00"/>
<rect x="858.97" y="752.60" width="1.03" height="39.26" fill="#ff8000"/>
<rect x="860.00" y="752.60" width="0.70" height="39.26" fill="#ffff00"/>
<rect x="863.63" y="752.60" width="1.37" height="39.26" fill="#ff8000"/>
<rect x="865.00" y="752.60" width="1.37" height="39.26" fill="#ffff00"/>
<rect x="871.63" y="752.60" width="2.07" height="39.26" fill="#ffff00"/>
<rect x="875.77" y="752.60" width="1.47" height="39.26" fill="#c6eb2c"/>
<rect x="885.63" y="752.60" width="6.03" height="39.26" fill="#ff8000"/>
<rect x="891.67" y="752.60" width="2.03" height="39.26" fill="#ffff00"/>
<rect x="899.30" y="752.60" width="0.73" height="39.26" fill="#ffff00"/>
<rect x="902.97" y="752.60" width="0.73" height="39.26" fill="#ffff00"/>
<rect x="906.63" y="752.60" width="1.37" height="39.26" fill="#ff8000"/>
<rect x="908.00" y="752.60" width="0.37" height="39.26" fill="#ffff00"/>
<rect x="917.63" y="752.60" width="0.73" height="39.26" fill="#ffff00"/>
<rect x="954.63" y="752.60" width="0.73" height="39.26" fill="#ffff00"/>
<rect x="978.97" y="752.60" width="0.73" height="39.26" fill="#ffff00"/>
<rect x="986.15" y="752.60" width="0.70" height="39.26" fill="#ff8000"/>
<rect x="1003.30" y="752.60" width="1.73" height="39.26" fill="#ff8000"/>
<rect x="1033.30" y="752.60" width="1.40" height="39.26" fill="#ff8000"/>
<rect x="1038.97" y="752.60" width="0.73" height="39.26" fill="#ffff00"/>
<rect x="1045.30" y="752.60" width="0.73" height="39.26" fill="#ffff00"/>
<rect x="1049.30" y="752.60" width="0.73" height="39.26" fill="#ffff00"/>
<rect x="1066.97" y="752.60" width="1.07" height="39.26" fill="#ffff00"/>
<rect x="1072.97" y="752.60" width="1.07" height="39.26" fill="#ffff00"/>
<rect x="96.63" y="791.86" width="1.40" height="39.26" fill="#ffff00"/>
<rect x="116.97" y="791.86" width="0.90" height="39.26" fill="#ffff00"/>
<rect x="123.30" y="791.86" width="1.23" height="39.26" fill="#ffff00"/>
<rect x="127.97" y="791.86" width="1.07" height="39.26" fill="#ffff00"/>
<rect x="131.97" y="791.86" width="3.40" height="39.26" fill="#ffff00"/>
<rect x="221.63" y="791.86" width="1.37" height="39.26" fill="#ff8000"/>
<rect x="223.00" y="791.86" width="0.70" height="39.26" fill="#ffff00"/>
<rect x="276.97" y="791.86" width="1.03" height="39.26" fill="#ffff00"/>
<rect x="278.00" y="791.86" width="0.70" height="39.26" fill="#ffff00"/>
<rect x="291.97" y="791.86" width="0.70" height="39.26" fill="#ffff00"/>
<rect x="292.67" y="791.86" width="1.67" height="39.26" fill="#ff8000"/>
<rect x="294.33" y="791.86" width="0.85" height="39.26" fill="#ff0000"/>
<rect x="296.10" y="791.86" width="1.47" height="39.26" fill="#b9a43a"/>
<rect x="308.30" y="791.86" width="1.03" height="39.26" fill="#ffff00"/>
<rect x="309.33" y="791.86" width="2.37" height="39.26" fill="#ff8000"/>
<rect x="313.97" y="791.86" width="0.73" height="39.26" fill="#ffff00"/>
<rect x="316.97" y="791.86" width="0.73" height="39.26" fill="#ffff00"/>
<rect x="323.63" y="791.86" width="1.07" height="39.26" fill="#ffff00"/>
<rect x="325.97" y="791.86" width="1.53" height="39.26" fill="#ffff00"/>
<rect x="327.50" y="791.86" width="3.87" height="39.26" fill="#ff8000"/>
<rect x="333.43" y="791.86" width="1.13" height="39.26" fill="#b9a43a"/>
<rect x="377.97" y="791.86" width="1.87" height="39.26" fill="#ffff00"/>
<rect x="379.83" y="791.86" width="1.53" height="39.26" fill="#ffff00"/>
<rect x="436.97" y="791.86" width="0.73" height="39.26" fill="#ffff00"/>
<rect x="440.30" y="791.86" width="3.37" height="39.26" fill="#ff8000"/>
<rect x="443.67" y="791.86" width="1.67" height="39.26" fill="#ff0000"/>
<rect x="445.33" y="791.86" width="3.33" height="39.26" fill="#ff8000"/>
<rect x="448.67" y="791.86" width="4.33" height="39.26" fill="#ff0000"/>
<rect x="453.00" y="791.86" width="1.33" height="39.26" fill="#ff8000"/>
<rect x="454.33" y="791.86" width="2.70" height="39.26" fill="#ffc000"/>
<rect x="500.48" y="791.86" width="1.20" height="39.26" fill="#ff0000"/>
<rect x="650.63" y="791.86" width="4.07" height="39.26" fill="#ffff00"/>
<rect x="656.97" y="791.86" width="0.73" height="39.26" fill="#ffff00"/>
<rect x="665.63" y="791.86" width="2.37" height="39.26" fill="#ffff00"/>
<rect x="668.00" y="791.86" width="3.00" height="39.26" fill="#ff8000"/>
<rect x="671.00" y="791.86" width="1.37" height="39.26" fill="#ffff00"/>
<rect x="685.63" y="791.86" width="2.37" height="39.26" fill="#ff8000"/>
<rect x="688.00" y="791.86" width="1.03" height="39.26" fill="#ffff00"/>
<rect x="790.30" y="791.86" width="2.03" height="39.26" fill="#ffff00"/>
<rect x="792.33" y="791.86" width="2.00" height="39.26" fill="#ff8000"/>
<rect x="794.33" y="791.86" width="1.67" height="39.26" fill="#ff0000"/>
<rect x="796.00" y="791.86" width="1.03" height="39.26" fill="#ff8000"/>
<rect x="812.23" y="791.86" width="0.70" height="39.26" fill="#ffff00"/>
<rect x="830.63" y="791.86" width="0.73" height="39.26" fill="#ffff00"/>
<rect x="952.97" y="791.86" width="1.37" height="39.26" fill="#ffff00"/>
<rect x="954.33" y="791.86" width="2.70" height="39.26" fill="#ff8000"/>
<rect x="970.63" y="791.86" width="1.07" height="39.26" fill="#ffff00"/>
<rect x="984.30" y="791.86" width="0.73" height="39.26" fill="#ffff00"/>
<rect x="1042.30" y="791.86" width="4.73" height="39.26" fill="#ff8000"/>
<rect x="1060.30" y="791.86" width="1.03" height="39.26" fill="#ff8000"/>
<rect x="1061.33" y="791.86" width="4.17" height="39.26" fill="#ff0000"/>
<rect x="1065.50" y="791.86" width="2.53" height="39.26" fill="#ffff00"/>
<rect x="80.95" y="831.12" width="0.90" height="39.26" fill="#ff0000"/>
<rect x="83.10" y="831.12" width="1.43" height="39.26" fill="#b9a43a"/>
<rect x="84.53" y="831.12" width="1.47" height="39.26" fill="#c4573a"/>
<rect x="86.00" y="831.12" width="2.37" height="39.26" fill="#ffff00"/>
<rect x="92.30" y="831.12" width="6.97" height="39.26" fill="#ff8000"/>
<rect x="99.27" y="831.12" width="2.57" height="39.26" fill="#ffff00"/>
<rect x="101.83" y="831.12" width="1.13" height="39.26" fill="#c4573a"/>
<rect x="105.50" y="831.12" width="1.90" height="39.26" fill="#ff8000"/>
<rect x="107.40" y="831.12" width="1.00" height="39.26" fill="#b9a43a"/>
<rect x="108.40" y="831.12" width="1.37" height="39.26" fill="#c4573a"/>
<rect x="116.30" y="831.12" width="1.10" height="39.26" fill="#ff8000"/>
<rect x="117.40" y="831.12" width="0.93" height="39.26" fill="#b9a43a"/>
<rect x="118.33" y="831.12" width="1.37" height="39.26" fill="#ffff00"/>
<rect x="125.17" y="831.12" width="0.87" height="39.26" fill="#b9a43a"/>
<rect x="128.43" y="831.12" width="2.23" height="39.26" fill="#ff8000"/>
<rect x="130.67" y="831.12" width="1.27" height="39.26" fill="#ffc000"/>
<rect x="131.93" y="831.12" width="5.13" height="39.26" fill="#ff8000"/>
<rect x="137.07" y="831.12" width="2.92" height="39.26" fill="#ff0000"/>
<rect x="143.30" y="831.12" width="1.20" height="39.26" fill="#ff8000"/>
<rect x="146.70" y="831.12" width="1.00" height="39.26" fill="#ffff00"/>
<rect x="156.17" y="831.12" width="1.53" height="39.26" fill="#ff8000"/>
<rect x="169.63" y="831.12" width="1.07" height="39.26" fill="#ffff00"/>
<rect x="171.97" y="831.12" width="1.07" height="39.26" fill="#ffff00"/>
<rect x="208.30" y="831.12" width="1.37" height="39.26" fill="#ffff00"/>
<rect x="209.67" y="831.12" width="1.17" height="39.26" fill="#ff8000"/>
<rect x="210.83" y="831.12" width="1.73" height="39.26" fill="#c4573a"/>
<rect x="215.97" y="831.12" width="0.73" height="39.26" fill="#ff8000"/>
<rect x="220.30" y="831.12" width="1.03" height="39.26" fill="#ff8000"/>
<rect x="221.33" y="831.12" width="1.03" height="39.26" fill="#ffff00"/>
<rect x="226.97" y="831.12" width="0.70" height="39.26" fill="#ffff00"/>
<rect x="227.67" y="831.12" width="1.03" height="39.26" fill="#ff8000"/>
<rect x="242.30" y="831.12" width="1.07" height="39.26" fill="#ffff00"/>
<rect x="257.63" y="831.12" width="1.03" height="39.26" fill="#ffff00"/>
<rect x="258.67" y="831.12" width="0.37" height="39.26" fill="#ff8000"/>
<rect x="261.30" y="831.12" width="0.73" height="39.26" fill="#ff8000"/>
<rect x="264.15" y="831.12" width="0.70" height="39.26" fill="#ff8000"/>
<rect x="278.15" y="831.12" width="0.70" height="39.26" fill="#ff8000"/>
<rect x="281.63" y="831.12" width="0.73" height="39.26" fill="#ff8000"/>
<rect x="331.63" y="831.12" width="1.73" height="39.26" fill="#ffff00"/>
<rect x="335.48" y="831.12" width="1.37" height="39.26" fill="#ff0000"/>
<rect x="424.97" y="831.12" width="0.73" height="39.26" fill="#ff8000"/>
<rect x="460.97" y="831.12" width="0.73" height="39.26" fill="#ffff00"/>
<rect x="562.43" y="831.12" width="1.47" height="39.26" fill="#b9a43a"/>
<rect x="795.63" y="831.12" width="1.03" height="39.26" fill="#ff8000"/>
<rect x="796.67" y="831.12" width="0.70" height="39.26" fill="#ffff00"/>
<rect x="813.30" y="831.12" width="0.73" height="39.26" fill="#ffff00"/>
<rect x="817.97" y="831.12" width="0.73" height="39.26" fill="#ff8000"/>
<rect x="830.63" y="831.12" width="0.73" height="39.26" fill="#ffff00"/>
<rect x="883.30" y="831.12" width="1.73" height="39.26" fill="#ffff00"/>
<rect x="888.30" y="831.12" width="1.40" height="39.26" fill="#ffff00"/>
<rect x="972.30" y="831.12" width="1.40" height="39.26" fill="#ffff00"/>
<rect x="993.63" y="831.12" width="1.40" height="39.26" fill="#ffff00"/>
<rect x="1003.77" y="831.12" width="1.13" height="39.26" fill="#b9a43a"/>
<rect x="1007.30" y="831.12" width="0.70" height="39.26" fill="#ffff00"/>
<rect x="1008.00" y="831.12" width="2.37" height="39.26" fill="#ff8000"/>
<rect x="1011.63" y="831.12" width="1.03" height="39.26" fill="#ffff00"/>
<rect x="1012.67" y="831.12" width="1.17" height="39.26" fill="#ff8000"/>
<rect x="1013.83" y="831.12" width="2.20" height="39.26" fill="#ffff00"/>
<rect x="1026.30" y="831.12" width="2.07" height="39.26" fill="#ffff00"/>
<rect x="1033.97" y="831.12" width="0.73" height="39.26" fill="#ffff00"/>
<rect x="1036.30" y="831.12" width="1.40" height="39.26" fill="#ffff00"/>
<rect x="1042.30" y="831.12" width="3.03" height="39.26" fill="#ff8000"/>
<rect x="1045.33" y="831.12" width="1.03" height="39.26" fill="#ffff00"/>
<rect x="1067.63" y="831.12" width="0.70" height="39.26" fill="#ffff00"/>
<rect x="1068.33" y="831.12" width="1.67" height="39.26" fill="#ff8000"/>
<rect x="1070.00" y="831.12" width="2.70" height="39.26" fill="#ffff00"/>
<rect x="313.82" y="713.34" width="1.03" height="39.26" fill="#ff0000"/>
<rect x="316.63" y="713.34" width="1.07" height="39.26" fill="#ffff00"/>
<rect x="380.43" y="713.34" width="2.80" height="39.26" fill="#c4573a"/>
<rect x="441.10" y="713.34" width="1.47" height="39.26" fill="#b9a43a"/>
<rect x="473.15" y="713.34" width="0.87" height="39.26" fill="#ff0000"/>
<rect x="508.10" y="713.34" width="1.13" height="39.26" fill="#b9a43a"/>
<rect x="559.30" y="713.34" width="1.70" height="39.26" fill="#ffff00"/>
<rect x="561.00" y="713.34" width="1.00" height="39.26" fill="#ff8000"/>
<rect x="562.00" y="713.34" width="3.67" height="39.26" fill="#ff0000"/>
<rect x="565.67" y="713.34" width="1.33" height="39.26" fill="#ff8000"/>
<rect x="567.00" y="713.34" width="1.03" height="39.26" fill="#ffff00"/>
<rect x="580.97" y="713.34" width="0.73" height="39.26" fill="#ff8000"/>
<rect x="610.63" y="713.34" width="0.73" height="39.26" fill="#ffff00"/>
<rect x="613.97" y="713.34" width="1.03" height="39.26" fill="#ff8000"/>
<rect x="615.00" y="713.34" width="0.37" height="39.26" fill="#ffff00"/>
<rect x="657.97" y="713.34" width="0.73" height="39.26" fill="#ffff00"/>
<rect x="660.30" y="713.34" width="0.73" height="39.26" fill="#ff8000"/>
<rect x="835.63" y="713.34" width="1.40" height="39.26" fill="#ffff00"/>
<rect x="841.63" y="713.34" width="1.03" height="39.26" fill="#ffff00"/>
<rect x="842.67" y="713.34" width="2.00" height="39.26" fill="#ff8000"/>
<rect x="844.67" y="713.34" width="1.00" height="39.26" fill="#ffc000"/>
<rect x="845.67" y="713.34" width="1.67" height="39.26" fill="#ff8000"/>
<rect x="847.33" y="713.34" width="1.33" height="39.26" fill="#ff4000"/>
<rect x="848.67" y="713.34" width="1.00" height="39.26" fill="#ff8000"/>
<rect x="849.67" y="713.34" width="1.85" height="39.26" fill="#ff4000"/>
<rect x="871.30" y="713.34" width="1.03" height="39.26" fill="#ff8000"/>
<rect x="872.33" y="713.34" width="2.03" height="39.26" fill="#ffff00"/>
<rect x="875.77" y="713.34" width="1.47" height="39.26" fill="#c6eb2c"/>
<rect x="878.10" y="713.34" width="1.13" height="39.26" fill="#c6eb2c"/>
<rect x="880.30" y="713.34" width="1.70" height="39.26" fill="#ffff00"/>
<rect x="882.00" y="713.34" width="1.00" height="39.26" fill="#ff8000"/>
<rect x="883.00" y="713.34" width="2.17" height="39.26" fill="#ff0000"/>
<rect x="885.17" y="713.34" width="2.00" height="39.26" fill="#ffff00"/>
<rect x="887.17" y="713.34" width="3.53" height="39.26" fill="#ff8000"/>
<rect x="893.30" y="713.34" width="1.37" height="39.26" fill="#ffff00"/>
<rect x="894.67" y="713.34" width="1.33" height="39.26" fill="#ffc000"/>
<rect x="896.00" y="713.34" width="1.37" height="39.26" fill="#ffff00"/>
<rect x="900.97" y="713.34" width="5.40" height="39.26" fill="#ff8000"/>
<rect x="907.63" y="713.34" width="2.40" height="39.26" fill="#ffff00"/>
<rect x="913.97" y="713.34" width="0.73" height="39.26" fill="#ffff00"/>
<rect x="953.63" y="713.34" width="0.70" height="39.26" fill="#ffff00"/>
<rect x="954.33" y="713.34" width="1.33" height="39.26" fill="#ff8000"/>
<rect x="955.67" y="713.34" width="1.85" height="39.26" fill="#ff0000"/>
<rect x="970.97" y="713.34" width="3.73" height="39.26" fill="#ffff00"/>
<rect x="984.30" y="713.34" width="2.40" height="39.26" fill="#ffff00"/>
<rect x="1026.30" y="713.34" width="1.37" height="39.26" fill="#ffff00"/>
<rect x="1027.67" y="713.34" width="2.23" height="39.26" fill="#c6eb2c"/>
<rect x="1033.63" y="713.34" width="4.40" height="39.26" fill="#ffff00"/>
<rect x="1039.10" y="713.34" width="2.80" height="39.26" fill="#c6eb2c"/>
<rect x="1043.30" y="713.34" width="2.07" height="39.26" fill="#ff8000"/>
<rect x="1062.63" y="713.34" width="1.40" height="39.26" fill="#ff8000"/>
<rect x="1067.30" y="713.34" width="1.87" height="39.26" fill="#ffff00"/>
<rect x="1069.17" y="713.34" width="3.83" height="39.26" fill="#ff8000"/>
<rect x="1073.00" y="713.34" width="1.03" height="39.26" fill="#ffff00"/>
<rect x="1075.63" y="713.34" width="1.07" height="39.26" fill="#ff8000"/>
<rect x="97.10" y="870.38" width="2.90" height="39.26" fill="#b9a43a"/>
<rect x="100.00" y="870.38" width="1.37" height="39.26" fill="#ffff00"/>
<rect x="205.97" y="870.38" width="0.73" height="39.26" fill="#ffff00"/>
<rect x="276.63" y="870.38" width="1.37" height="39.26" fill="#ffc000"/>
<rect x="278.00" y="870.38" width="0.70" height="39.26" fill="#ffff00"/>
<rect x="323.97" y="870.38" width="0.73" height="39.26" fill="#ffff00"/>
<rect x="382.97" y="870.38" width="1.07" height="39.26" fill="#ff8000"/>
<rect x="507.63" y="870.38" width="1.40" height="39.26" fill="#ff8000"/>
<rect x="560.30" y="870.38" width="1.70" height="39.26" fill="#ffff00"/>
<rect x="562.00" y="870.38" width="1.03" height="39.26" fill="#ff8000"/>
<rect x="706.30" y="870.38" width="1.40" height="39.26" fill="#ffff00"/>
<rect x="740.30" y="870.38" width="1.40" height="39.26" fill="#ffff00"/>
<rect x="815.30" y="870.38" width="1.40" height="39.26" fill="#ff8000"/>
<rect x="817.97" y="870.38" width="0.73" height="39.26" fill="#ffff00"/>
<rect x="830.30" y="870.38" width="1.07" height="39.26" fill="#ffff00"/>
<rect x="833.97" y="870.38" width="1.03" height="39.26" fill="#ff8000"/>
<rect x="835.00" y="870.38" width="2.70" height="39.26" fill="#ffff00"/>
<rect x="842.30" y="870.38" width="1.70" height="39.26" fill="#ffff00"/>
<rect x="844.00" y="870.38" width="0.37" height="39.26" fill="#ff8000"/>
<rect x="846.48" y="870.38" width="0.70" height="39.26" fill="#ffff00"/>
<rect x="848.97" y="870.38" width="2.73" height="39.26" fill="#ff8000"/>
<rect x="866.63" y="870.38" width="1.07" height="39.26" fill="#ffff00"/>
<rect x="879.30" y="870.38" width="1.03" height="39.26" fill="#ffff00"/>
<rect x="880.33" y="870.38" width="1.67" height="39.26" fill="#ff8000"/>
<rect x="882.00" y="870.38" width="5.00" height="39.26" fill="#ff0000"/>
<rect x="887.00" y="870.38" width="2.37" height="39.26" fill="#ff8000"/>
<rect x="915.30" y="870.38" width="1.70" height="39.26" fill="#ffff00"/>
<rect x="917.00" y="870.38" width="7.70" height="39.26" fill="#ff8000"/>
<rect x="952.30" y="870.38" width="2.03" height="39.26" fill="#ff8000"/>
<rect x="954.33" y="870.38" width="2.33" height="39.26" fill="#ff0000"/>
<rect x="956.67" y="870.38" width="3.00" height="39.26" fill="#ff8000"/>
<rect x="959.67" y="870.38" width="1.03" height="39.26" fill="#ffff00"/>
<rect x="970.30" y="870.38" width="4.20" height="39.26" fill="#ffff00"/>
<rect x="974.50" y="870.38" width="1.20" height="39.26" fill="#ffff00"/>
<rect x="989.97" y="870.38" width="1.03" height="39.26" fill="#ff8000"/>
<rect x="991.00" y="870.38" width="3.00" height="39.26" fill="#ff0000"/>
<rect x="994.00" y="870.38" width="1.33" height="39.26" fill="#ff8000"/>
<rect x="995.33" y="870.38" width="1.52" height="39.26" fill="#ff0000"/>
<rect x="1009.30" y="870.38" width="1.07" height="39.26" fill="#ffff00"/>
<rect x="1012.63" y="870.38" width="1.07" height="39.26" fill="#ffff00"/>
<rect x="1024.97" y="870.38" width="3.03" height="39.26" fill="#ffff00"/>
<rect x="1028.00" y="870.38" width="1.90" height="39.26" fill="#c6eb2c"/>
<rect x="1041.63" y="870.38" width="3.03" height="39.26" fill="#ffff00"/>
<rect x="1044.67" y="870.38" width="1.00" height="39.26" fill="#ff8000"/>
<rect x="1045.67" y="870.38" width="1.03" height="39.26" fill="#ffff00"/>
<rect x="1061.30" y="870.38" width="0.70" height="39.26" fill="#ffff00"/>
<rect x="1062.00" y="870.38" width="2.67" height="39.26" fill="#ff8000"/>
<rect x="1064.67" y="870.38" width="1.33" height="39.26" fill="#ffff00"/>
<rect x="1066.00" y="870.38" width="1.83" height="39.26" fill="#ff8000"/>
<rect x="1067.83" y="870.38" width="0.53" height="39.26" fill="#ffff00"/>
<rect x="1070.63" y="870.38" width="0.70" height="39.26" fill="#ffff00"/>
<rect x="1071.33" y="870.38" width="1.00" height="39.26" fill="#ff8000"/>
<rect x="1072.33" y="870.38" width="0.70" height="39.26" fill="#ffff00"/>
<rect x="276.30" y="909.64" width="0.73" height="39.26" fill="#ffff00"/>
<rect x="291.97" y="909.64" width="1.03" height="39.26" fill="#ffff00"/>
<rect x="293.00" y="909.64" width="1.52" height="39.26" fill="#ff0000"/>
<rect x="296.30" y="909.64" width="1.07" height="39.26" fill="#ff8000"/>
<rect x="310.30" y="909.64" width="1.03" height="39.26" fill="#ff8000"/>
<rect x="311.33" y="909.64" width="0.37" height="39.26" fill="#ffff00"/>
<rect x="329.10" y="909.64" width="1.47" height="39.26" fill="#b9a43a"/>
<rect x="333.30" y="909.64" width="1.07" height="39.26" fill="#ffff00"/>
<rect x="363.48" y="909.64" width="3.03" height="39.26" fill="#ff0000"/>
<rect x="409.97" y="909.64" width="0.73" height="39.26" fill="#ff8000"/>
<rect x="436.82" y="909.64" width="1.03" height="39.26" fill="#ff0000"/>
<rect x="452.63" y="909.64" width="1.40" height="39.26" fill="#ffff00"/>
<rect x="482.97" y="909.64" width="1.07" height="39.26" fill="#ffff00"/>
<rect x="486.63" y="909.64" width="0.73" height="39.26" fill="#ffff00"/>
<rect x="507.30" y="909.64" width="1.73" height="39.26" fill="#ffff00"/>
<rect x="510.97" y="909.64" width="0.70" height="39.26" fill="#ffff00"/>
<rect x="511.67" y="909.64" width="1.03" height="39.26" fill="#ff8000"/>
<rect x="528.63" y="909.64" width="2.03" height="39.26" fill="#ff8000"/>
<rect x="530.67" y="909.64" width="1.00" height="39.26" fill="#ffff00"/>
<rect x="531.67" y="909.64" width="1.90" height="39.26" fill="#c4573a"/>
<rect x="549.63" y="909.64" width="0.73" height="39.26" fill="#ffff00"/>
<rect x="560.97" y="909.64" width="1.40" height="39.26" fill="#ffff00"/>
<rect x="564.63" y="909.64" width="2.03" height="39.26" fill="#ffff00"/>
<rect x="566.67" y="909.64" width="1.00" height="39.26" fill="#ff8000"/>
<rect x="567.67" y="909.64" width="2.33" height="39.26" fill="#ff0000"/>
<rect x="570.00" y="909.64" width="2.33" height="39.26" fill="#ff8000"/>
<rect x="572.33" y="909.64" width="1.03" height="39.26" fill="#ffff00"/>
<rect x="575.63" y="909.64" width="1.03" height="39.26" fill="#ffff00"/>
<rect x="576.67" y="909.64" width="0.70" height="39.26" fill="#ff8000"/>
<rect x="578.63" y="909.64" width="1.37" height="39.26" fill="#ffff00"/>
<rect x="580.00" y="909.64" width="1.70" height="39.26" fill="#ff8000"/>
<rect x="587.63" y="909.64" width="3.73" height="39.26" fill="#ffff00"/>
<rect x="593.30" y="909.64" width="1.03" height="39.26" fill="#ff8000"/>
<rect x="594.33" y="909.64" width="1.00" height="39.26" fill="#ffff00"/>
<rect x="595.33" y="909.64" width="1.03" height="39.26" fill="#ff8000"/>
<rect x="597.97" y="909.64" width="1.40" height="39.26" fill="#ffff00"/>
<rect x="613.97" y="909.64" width="1.03" height="39.26" fill="#ffff00"/>
<rect x="615.00" y="909.64" width="1.67" height="39.26" fill="#ff8000"/>
<rect x="616.67" y="909.64" width="1.03" height="39.26" fill="#ffff00"/>
<rect x="636.30" y="909.64" width="1.37" height="39.26" fill="#ffff00"/>
<rect x="637.67" y="909.64" width="1.33" height="39.26" fill="#ff8000"/>
<rect x="639.00" y="909.64" width="1.83" height="39.26" fill="#ffff00"/>
<rect x="640.83" y="909.64" width="4.17" height="39.26" fill="#ff0000"/>
<rect x="645.00" y="909.64" width="4.33" height="39.26" fill="#ff8000"/>
<rect x="649.33" y="909.64" width="1.03" height="39.26" fill="#ffff00"/>
<rect x="651.63" y="909.64" width="0.70" height="39.26" fill="#ff8000"/>
<rect x="652.33" y="909.64" width="2.00" height="39.26" fill="#ff0000"/>
<rect x="654.33" y="909.64" width="1.03" height="39.26" fill="#ffff00"/>
<rect x="667.63" y="909.64" width="2.03" height="39.26" fill="#ff8000"/>
<rect x="669.67" y="909.64" width="1.70" height="39.26" fill="#ffff00"/>
<rect x="687.82" y="909.64" width="1.70" height="39.26" fill="#ff0000"/>
<rect x="706.97" y="909.64" width="0.73" height="39.26" fill="#ff8000"/>
<rect x="777.97" y="909.64" width="0.73" height="39.26" fill="#ffff00"/>
<rect x="810.30" y="909.64" width="1.07" height="39.26" fill="#ff8000"/>
<rect x="842.97" y="909.64" width="2.40" height="39.26" fill="#ffff00"/>
<rect x="848.63" y="909.64" width="3.07" height="39.26" fill="#ffff00"/>
<rect x="869.97" y="909.64" width="1.07" height="39.26" fill="#ffff00"/>
<rect x="1033.30" y="909.64" width="0.73" height="39.26" fill="#ffff00"/>
<rect x="1043.30" y="909.64" width="1.03" height="39.26" fill="#ffff00"/>
<rect x="1044.33" y="909.64" width="1.00" height="39.26" fill="#ff8000"/>
<rect x="1045.33" y="909.64" width="0.37" height="39.26" fill="#ffff00"/>
<rect x="1061.30" y="909.64" width="1.20" height="39.26" fill="#ffff00"/>
<rect x="1062.50" y="909.64" width="0.87" height="39.26" fill="#ffff00"/>
<rect x="1075.30" y="909.64" width="1.07" height="39.26" fill="#ffff00"/>
<rect x="452.30" y="988.16" width="1.53" height="38.09" fill="#ffff00"/>
<rect x="453.83" y="988.16" width="1.17" height="38.09" fill="#c4573a"/>
<rect x="455.00" y="988.16" width="1.37" height="38.09" fill="#ff8000"/>
<rect x="488.63" y="988.16" width="0.73" height="38.09" fill="#ffff00"/>
<rect x="491.63" y="988.16" width="4.07" height="38.09" fill="#ffff00"/>
<rect x="504.63" y="988.16" width="3.03" height="38.09" fill="#ff8000"/>
<rect x="507.67" y="988.16" width="1.03" height="38.09" fill="#ffff00"/>
<rect x="562.63" y="988.16" width="1.40" height="38.09" fill="#ffff00"/>
<rect x="597.97" y="988.16" width="1.37" height="38.09" fill="#ff8000"/>
<rect x="599.33" y="988.16" width="1.03" height="38.09" fill="#ffff00"/>
<rect x="613.43" y="988.16" width="2.40" height="38.09" fill="#c6eb2c"/>
<rect x="615.83" y="988.16" width="1.87" height="38.09" fill="#ff8000"/>
<rect x="631.30" y="988.16" width="2.53" height="38.09" fill="#ffff00"/>
<rect x="633.83" y="988.16" width="4.02" height="38.09" fill="#ff0000"/>
<rect x="642.30" y="988.16" width="0.73" height="38.09" fill="#ffff00"/>
<rect x="669.97" y="988.16" width="0.73" height="38.09" fill="#ffff00"/>
<rect x="705.30" y="988.16" width="0.70" height="38.09" fill="#ff8000"/>
<rect x="706.00" y="988.16" width="0.70" height="38.09" fill="#ffff00"/>
<rect x="741.30" y="988.16" width="0.73" height="38.09" fill="#ff8000"/>
<rect x="776.30" y="988.16" width="1.03" height="38.09" fill="#ff8000"/>
<rect x="777.33" y="988.16" width="0.37" height="38.09" fill="#ffff00"/>
<rect x="792.97" y="988.16" width="0.73" height="38.09" fill="#ffff00"/>
<rect x="796.30" y="988.16" width="1.07" height="38.09" fill="#ffff00"/>
<rect x="814.30" y="988.16" width="1.40" height="38.09" fill="#ff8000"/>
<rect x="830.30" y="988.16" width="1.70" height="38.09" fill="#ff8000"/>
<rect x="832.00" y="988.16" width="1.67" height="38.09" fill="#ffff00"/>
<rect x="833.67" y="988.16" width="0.37" height="38.09" fill="#ff8000"/>
<rect x="835.10" y="988.16" width="1.13" height="38.09" fill="#c6eb2c"/>
<rect x="843.30" y="988.16" width="4.03" height="38.09" fill="#ff8000"/>
<rect x="847.33" y="988.16" width="2.00" height="38.09" fill="#ff0000"/>
<rect x="849.33" y="988.16" width="1.00" height="38.09" fill="#ffff00"/>
<rect x="850.33" y="988.16" width="1.50" height="38.09" fill="#ff8000"/>
<rect x="851.83" y="988.16" width="3.00" height="38.09" fill="#ffff00"/>
<rect x="854.83" y="988.16" width="2.02" height="38.09" fill="#ff0000"/>
<rect x="883.30" y="988.16" width="1.73" height="38.09" fill="#ffff00"/>
<rect x="900.97" y="988.16" width="1.03" height="38.09" fill="#ffff00"/>
<rect x="902.00" y="988.16" width="4.37" height="38.09" fill="#ff8000"/>
<rect x="1003.97" y="988.16" width="1.87" height="38.09" fill="#ffff00"/>
<rect x="1005.83" y="988.16" width="1.33" height="38.09" fill="#ff8000"/>
<rect x="1007.17" y="988.16" width="1.20" height="38.09" fill="#ffff00"/>
<rect x="1041.63" y="988.16" width="1.03" height="38.09" fill="#ffff00"/>
<rect x="1042.67" y="988.16" width="1.33" height="38.09" fill="#ff8000"/>
<rect x="1044.00" y="988.16" width="2.33" height="38.09" fill="#ff0000"/>
<rect x="1046.33" y="988.16" width="6.00" height="38.09" fill="#ff8000"/>
<rect x="1052.33" y="988.16" width="2.03" height="38.09" fill="#ffff00"/>
<rect x="1062.63" y="988.16" width="1.07" height="38.09" fill="#ffff00"/>
<rect x="1066.63" y="988.16" width="1.03" height="38.09" fill="#ffff00"/>
<rect x="1067.67" y="988.16" width="2.33" height="38.09" fill="#ff8000"/>
<rect x="1070.00" y="988.16" width="4.00" height="38.09" fill="#ffff00"/>
<rect x="1074.00" y="988.16" width="1.33" height="38.09" fill="#ff8000"/>
<rect x="1075.33" y="988.16" width="1.03" height="38.09" fill="#ffff00"/>
<rect x="764.30" y="948.90" width="1.07" height="39.26" fill="#ffff00"/>
<rect x="797.63" y="948.90" width="1.73" height="39.26" fill="#ffff00"/>
<rect x="800.97" y="948.90" width="0.73" height="39.26" fill="#ffff00"/>
<rect x="814.97" y="948.90" width="0.73" height="39.26" fill="#ffff00"/>
<rect x="824.30" y="948.90" width="1.40" height="39.26" fill="#ffff00"/>
<rect x="829.77" y="948.90" width="1.73" height="39.26" fill="#c6eb2c"/>
<rect x="831.50" y="948.90" width="3.17" height="39.26" fill="#ffff00"/>
<rect x="834.67" y="948.90" width="6.00" height="39.26" fill="#ff8000"/>
<rect x="840.67" y="948.90" width="0.67" height="39.26" fill="#ffff00"/>
<rect x="841.33" y="948.90" width="2.83" height="39.26" fill="#ff8000"/>
<rect x="844.17" y="948.90" width="1.17" height="39.26" fill="#ffff00"/>
<rect x="845.33" y="948.90" width="2.33" height="39.26" fill="#ff8000"/>
<rect x="847.67" y="948.90" width="2.67" height="39.26" fill="#ff0000"/>
<rect x="850.33" y="948.90" width="1.67" height="39.26" fill="#ff8000"/>
<rect x="852.00" y="948.90" width="0.37" height="39.26" fill="#ffff00"/>
<rect x="859.30" y="948.90" width="1.07" height="39.26" fill="#ffff00"/>
<rect x="873.30" y="948.90" width="1.73" height="39.26" fill="#ffff00"/>
<rect x="918.30" y="948.90" width="1.07" height="39.26" fill="#ff8000"/>
</g>
<path d="M168.59 557V1026.25M259.43 557V1026.25M350.27 557V1026.25M441.11 557V1026.25M531.95 557V1026.25M622.80 557V1026.25M713.64 557V1026.25M804.48 557V1026.25M895.32 557V1026.25M986.16 557V1026.25M77.75 576.70H1077M77.75 615.74H1077M77.75 654.78H1077M77.75 693.82H1077M77.75 732.86H1077M77.75 771.90H1077M77.75 810.94H1077M77.75 849.98H1077M77.75 889.02H1077M77.75 928.06H1077M77.75 967.10H1077M77.75 1006.14H1077" stroke="#262626" stroke-opacity="0.15" stroke-width="1" fill="none"/>
<path d="M168.59 1026.25v-9M168.59 557v9M259.43 1026.25v-9M259.43 557v9M350.27 1026.25v-9M350.27 557v9M441.11 1026.25v-9M441.11 557v9M531.95 1026.25v-9M531.95 557v9M622.80 1026.25v-9M622.80 557v9M713.64 1026.25v-9M713.64 557v9M804.48 1026.25v-9M804.48 557v9M895.32 1026.25v-9M895.32 557v9M986.16 1026.25v-9M986.16 557v9M77.75 576.70h9M1077 576.70h-9M77.75 615.74h9M1077 615.74h-9M77.75 654.78h9M1077 654.78h-9M77.75 693.82h9M1077 693.82h-9M77.75 732.86h9M1077 732.86h-9M77.75 771.90h9M1077 771.90h-9M77.75 810.94h9M1077 810.94h-9M77.75 849.98h9M1077 849.98h-9M77.75 889.02h9M1077 889.02h-9M77.75 928.06h9M1077 928.06h-9M77.75 967.10h9M1077 967.10h-9M77.75 1006.14h9M1077 1006.14h-9" stroke="#333" stroke-width="1" fill="none"/>
<rect x="77.75" y="557" width="999.25" height="469.25" fill="none" stroke="#4d4d4d" stroke-width="1"/>
<g font-size="15.1" fill="#262626" text-anchor="end">
<text x="69.95" y="582.60">AEX</text>
<text x="69.95" y="621.64">ATX</text>
<text x="69.95" y="660.68">BEL</text>
<text x="69.95" y="699.72">CAC</text>
<text x="69.95" y="738.76">DAX</text>
<text x="69.95" y="777.80">FTSE</text>
<text x="69.95" y="816.84">HEX</text>
<text x="69.95" y="855.88">IBEX</text>
<text x="69.95" y="894.92">MIB</text>
<text x="69.95" y="933.96">OMX</text>
<text x="69.95" y="973.00">PSI</text>
<text x="69.95" y="1012.04">SMI</text>
</g>
<g font-size="15.5" fill="#262626" text-anchor="middle">
<text x="76.75" y="1049.45">2007-01</text>
<text x="167.59" y="1049.45">2008-04</text>
<text x="258.43" y="1049.45">2009-07</text>
<text x="349.27" y="1049.45">2010-10</text>
<text x="440.11" y="1049.45">2012-02</text>
<text x="530.95" y="1049.45">2013-05</text>
<text x="621.80" y="1049.45">2014-08</text>
<text x="712.64" y="1049.45">2015-11</text>
<text x="803.48" y="1049.45">2017-03</text>
<text x="894.32" y="1049.45">2018-06</text>
<text x="985.16" y="1049.45">2019-09</text>
<text x="1076.00" y="1049.45">2020-12</text>
</g>
<text x="577.38" y="1071.35" font-size="16.7" font-weight="bold" fill="#262626" text-anchor="middle">Date</text>
<text transform="translate(22.3 791.62) rotate(-90)" font-size="16.7" font-weight="bold" fill="#262626" text-anchor="middle">Index</text>
<rect x="1118.8" y="557.00" width="24.200000000000045" height="93.85" fill="#ff0000"/>
<rect x="1118.8" y="650.85" width="24.200000000000045" height="93.85" fill="#ff8000"/>
<rect x="1118.8" y="744.70" width="24.200000000000045" height="93.85" fill="#ffff00"/>
<rect x="1118.8" y="838.55" width="24.200000000000045" height="93.85" fill="#66cc66"/>
<rect x="1118.8" y="932.40" width="24.200000000000045" height="93.85" fill="#ffffff"/>
<rect x="1118.8" y="557" width="24.200000000000045" height="469.25" fill="none" stroke="#4d4d4d" stroke-width="1"/>
<path d="M1143 674.31h-4.6M1143 791.62h-4.6M1143 908.94h-4.6" stroke="#444" stroke-width="1" fill="none"/>
<g font-size="13.8" fill="#2e2e2e">
<text x="1149.4" y="562.00">&gt;99%</text>
<text x="1149.4" y="679.31">95-99%</text>
<text x="1149.4" y="796.62">90-95%</text>
<text x="1149.4" y="913.94">&lt;90%</text>
<text x="1149.4" y="1031.25">Missing</text>
</g>
</svg>
</body></html>
